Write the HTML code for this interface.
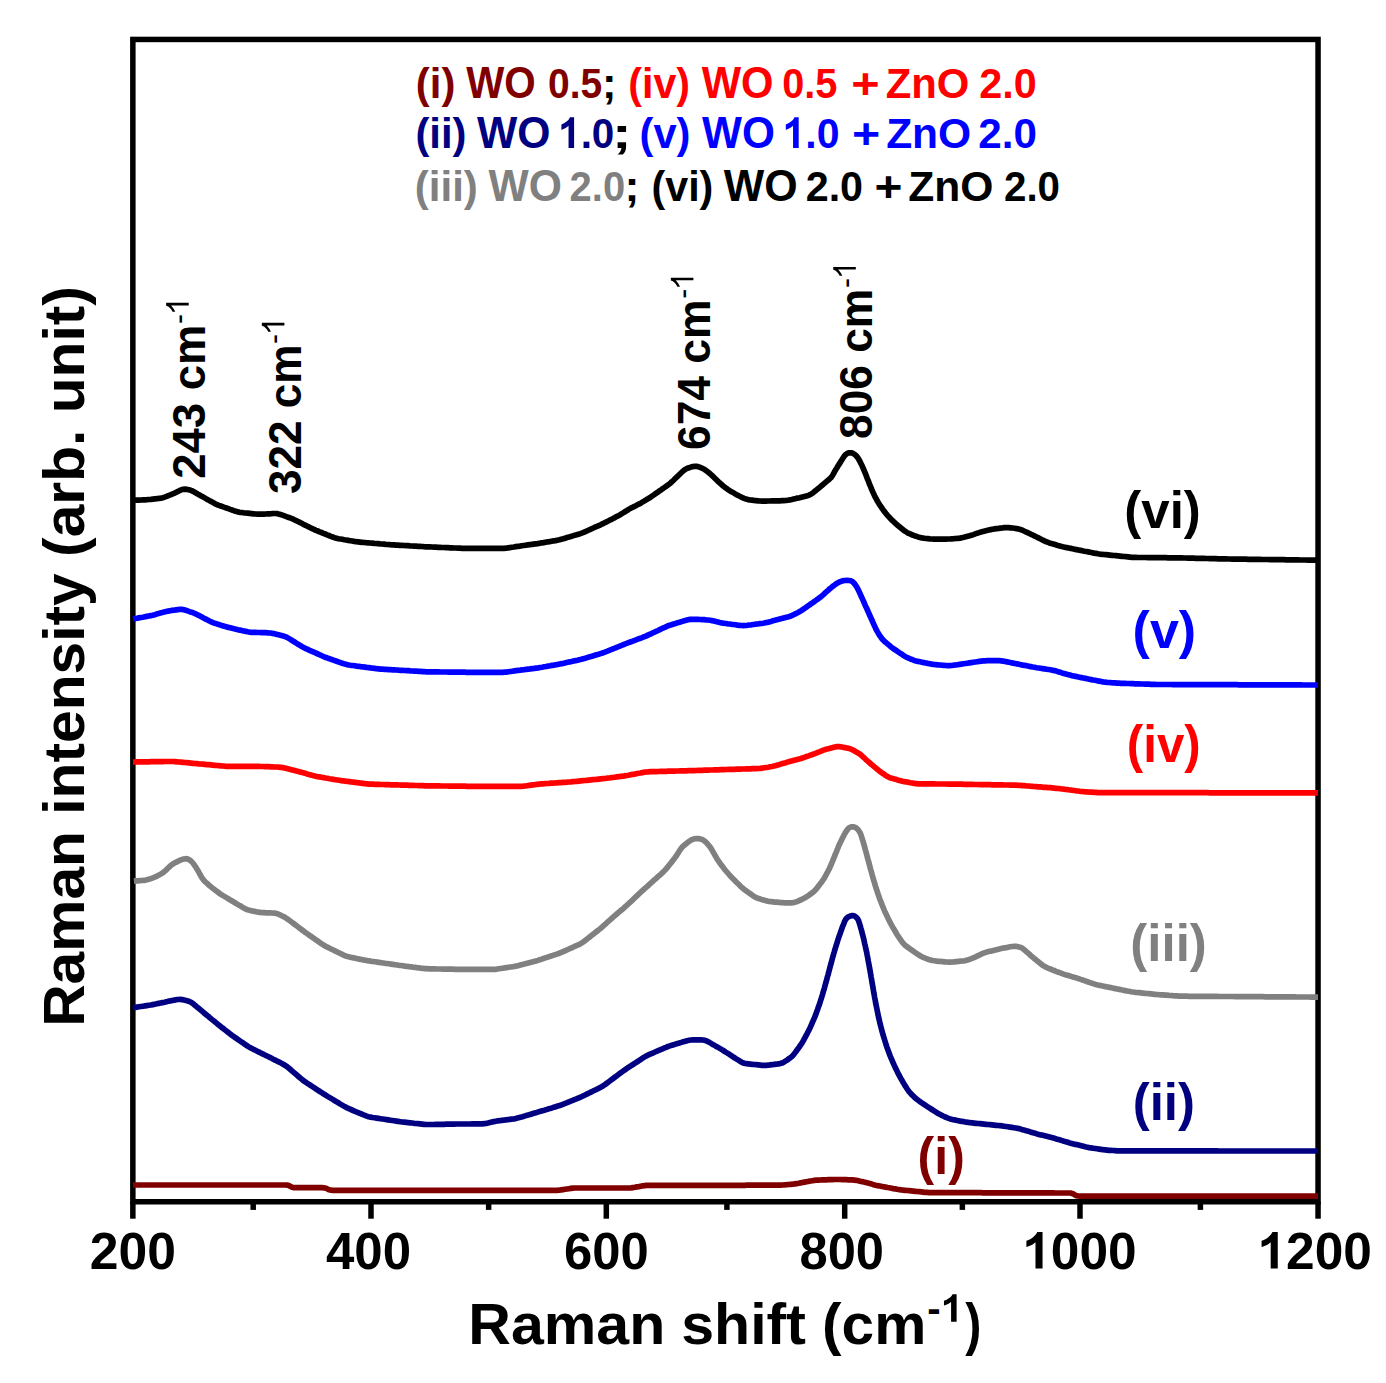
<!DOCTYPE html>
<html><head><meta charset="utf-8"><style>
html,body{margin:0;padding:0;background:#fff;}
body{width:1386px;height:1383px;overflow:hidden;}
svg{display:block;}
text{font-family:"Liberation Sans",sans-serif;font-weight:bold;font-kerning:none;}
</style></head><body>
<svg width="1386" height="1383" viewBox="0 0 1386 1383">
<rect width="1386" height="1383" fill="#fff"/>
<g stroke="#000" stroke-width="5.5" fill="none">
<rect x="132.85" y="39.45" width="1185.20" height="1162.30" stroke-linejoin="miter"/>
<line x1="132.85" y1="1201.75" x2="132.85" y2="1218.7"/>
<line x1="253.20" y1="1201.75" x2="253.20" y2="1209.9"/>
<line x1="371.00" y1="1201.75" x2="371.00" y2="1218.7"/>
<line x1="488.65" y1="1201.75" x2="488.65" y2="1209.9"/>
<line x1="606.30" y1="1201.75" x2="606.30" y2="1218.7"/>
<line x1="726.90" y1="1201.75" x2="726.90" y2="1209.9"/>
<line x1="844.70" y1="1201.75" x2="844.70" y2="1218.7"/>
<line x1="962.35" y1="1201.75" x2="962.35" y2="1209.9"/>
<line x1="1080.00" y1="1201.75" x2="1080.00" y2="1218.7"/>
<line x1="1200.40" y1="1201.75" x2="1200.40" y2="1209.9"/>
<line x1="1318.05" y1="1201.75" x2="1318.05" y2="1218.7"/>
</g>
<g fill="none" stroke-width="5.7" stroke-linejoin="round" stroke-linecap="butt">
<path d="M133.0,1185.0 L135.0,1185.0 L137.0,1185.0 L139.0,1185.0 L141.0,1185.0 L143.0,1185.0 L145.0,1185.0 L147.0,1185.0 L149.0,1185.0 L151.0,1185.0 L153.0,1185.0 L155.0,1185.0 L157.0,1185.0 L159.0,1185.0 L161.0,1185.0 L163.0,1185.0 L165.0,1185.0 L167.0,1185.0 L169.0,1185.0 L171.0,1185.0 L173.0,1185.0 L175.0,1185.0 L177.0,1185.0 L179.0,1185.0 L181.0,1185.0 L183.0,1185.0 L185.0,1185.0 L187.0,1185.0 L189.0,1185.0 L191.0,1185.0 L193.0,1185.0 L195.0,1185.0 L197.0,1185.0 L199.0,1185.0 L201.0,1185.0 L203.0,1185.0 L205.0,1185.0 L207.0,1185.0 L209.0,1185.0 L211.0,1185.0 L213.0,1185.0 L215.0,1185.0 L217.0,1185.0 L219.0,1185.0 L221.0,1185.0 L223.0,1185.0 L225.0,1185.0 L227.0,1185.0 L229.0,1185.0 L231.0,1185.0 L233.0,1185.0 L235.0,1185.0 L237.0,1185.0 L239.0,1185.0 L241.0,1185.0 L243.0,1185.0 L245.0,1185.0 L247.0,1185.0 L249.0,1185.0 L251.0,1185.0 L253.0,1185.0 L255.0,1185.0 L257.1,1185.0 L259.1,1185.0 L261.1,1185.0 L263.1,1185.0 L265.1,1185.0 L267.1,1185.0 L269.1,1185.0 L271.1,1185.0 L273.1,1185.0 L275.1,1185.0 L277.1,1185.0 L279.1,1185.0 L281.1,1185.0 L283.1,1185.0 L285.1,1185.0 L287.0,1185.1 L288.8,1185.6 L290.5,1186.4 L292.1,1187.2 L294.0,1187.6 L295.9,1187.7 L297.9,1187.7 L299.9,1187.7 L301.9,1187.7 L303.9,1187.7 L305.9,1187.7 L307.9,1187.7 L309.9,1187.7 L311.9,1187.7 L313.9,1187.7 L315.9,1187.7 L317.9,1187.7 L319.9,1187.7 L321.9,1187.7 L323.9,1187.8 L325.8,1188.2 L327.5,1189.0 L329.2,1189.8 L331.0,1190.2 L333.0,1190.3 L335.0,1190.3 L337.0,1190.3 L339.0,1190.3 L341.0,1190.3 L343.0,1190.3 L345.0,1190.3 L347.0,1190.3 L349.0,1190.3 L351.0,1190.3 L353.0,1190.3 L355.0,1190.3 L357.0,1190.3 L359.0,1190.3 L361.0,1190.3 L363.0,1190.3 L365.0,1190.3 L367.0,1190.3 L369.0,1190.3 L371.0,1190.3 L373.0,1190.3 L375.0,1190.3 L377.0,1190.3 L379.0,1190.3 L381.0,1190.3 L383.0,1190.3 L385.0,1190.3 L387.0,1190.3 L389.0,1190.3 L391.0,1190.3 L393.0,1190.3 L395.0,1190.3 L397.0,1190.3 L399.0,1190.3 L401.0,1190.3 L403.0,1190.3 L405.0,1190.3 L407.0,1190.3 L409.0,1190.3 L411.0,1190.3 L413.0,1190.3 L415.0,1190.3 L417.0,1190.3 L419.0,1190.3 L421.0,1190.3 L423.0,1190.3 L425.0,1190.3 L427.0,1190.3 L429.0,1190.3 L431.0,1190.3 L433.0,1190.3 L435.0,1190.3 L437.0,1190.3 L439.0,1190.3 L441.0,1190.3 L443.0,1190.3 L445.0,1190.3 L447.0,1190.3 L449.0,1190.3 L451.0,1190.3 L453.0,1190.3 L455.0,1190.3 L457.0,1190.3 L459.0,1190.3 L461.0,1190.3 L463.0,1190.3 L465.0,1190.3 L467.0,1190.3 L469.0,1190.3 L471.0,1190.3 L473.0,1190.3 L475.0,1190.3 L477.0,1190.3 L479.0,1190.3 L481.0,1190.3 L483.0,1190.3 L485.0,1190.3 L487.0,1190.3 L489.0,1190.3 L491.0,1190.3 L493.0,1190.3 L495.0,1190.3 L497.0,1190.3 L499.0,1190.3 L501.0,1190.3 L503.0,1190.3 L505.0,1190.3 L507.0,1190.3 L509.0,1190.3 L511.0,1190.3 L513.0,1190.3 L515.0,1190.3 L517.0,1190.3 L519.0,1190.3 L521.0,1190.3 L523.0,1190.3 L525.0,1190.3 L527.0,1190.3 L529.0,1190.3 L531.0,1190.3 L533.0,1190.3 L535.0,1190.3 L537.0,1190.3 L539.0,1190.3 L541.0,1190.3 L543.0,1190.3 L545.1,1190.3 L547.1,1190.3 L549.1,1190.3 L551.1,1190.3 L553.1,1190.3 L555.1,1190.3 L557.1,1190.3 L559.0,1190.2 L561.0,1189.9 L563.0,1189.6 L565.0,1189.3 L567.0,1189.0 L568.9,1188.7 L570.9,1188.4 L572.9,1188.1 L574.9,1188.0 L576.9,1188.0 L578.9,1188.0 L580.9,1188.0 L582.9,1188.0 L584.9,1188.0 L586.9,1188.0 L588.9,1188.0 L590.9,1188.0 L592.9,1188.0 L594.9,1188.0 L596.9,1188.0 L598.9,1188.0 L600.9,1188.0 L602.9,1188.0 L604.9,1188.0 L606.9,1188.0 L608.9,1188.0 L610.9,1188.0 L612.9,1188.0 L614.9,1188.0 L616.9,1188.0 L618.9,1188.0 L620.9,1188.0 L622.9,1188.0 L624.9,1188.0 L626.9,1188.0 L628.9,1188.0 L630.9,1187.9 L632.9,1187.6 L634.8,1187.3 L636.8,1186.9 L638.8,1186.6 L640.7,1186.2 L642.7,1185.8 L644.7,1185.6 L646.7,1185.4 L648.7,1185.4 L650.7,1185.4 L652.7,1185.4 L654.7,1185.4 L656.7,1185.4 L658.7,1185.4 L660.7,1185.4 L662.7,1185.4 L664.7,1185.4 L666.7,1185.4 L668.7,1185.4 L670.7,1185.4 L672.7,1185.4 L674.7,1185.4 L676.7,1185.4 L678.7,1185.4 L680.7,1185.3 L682.7,1185.3 L684.7,1185.3 L686.7,1185.3 L688.7,1185.3 L690.7,1185.3 L692.7,1185.3 L694.7,1185.3 L696.7,1185.3 L698.7,1185.3 L700.7,1185.3 L702.7,1185.3 L704.7,1185.3 L706.7,1185.3 L708.7,1185.3 L710.7,1185.3 L712.7,1185.3 L714.7,1185.3 L716.7,1185.3 L718.7,1185.3 L720.7,1185.3 L722.7,1185.3 L724.7,1185.3 L726.7,1185.3 L728.7,1185.3 L730.7,1185.3 L732.7,1185.3 L734.7,1185.3 L736.7,1185.3 L738.7,1185.3 L740.7,1185.3 L742.7,1185.3 L744.7,1185.3 L746.7,1185.2 L748.7,1185.2 L750.7,1185.2 L752.7,1185.2 L754.7,1185.2 L756.7,1185.2 L758.7,1185.2 L760.7,1185.2 L762.7,1185.2 L764.7,1185.2 L766.7,1185.2 L768.7,1185.2 L770.7,1185.2 L772.7,1185.2 L774.7,1185.2 L776.7,1185.2 L778.7,1185.2 L780.7,1185.1 L782.7,1185.0 L784.7,1184.8 L786.7,1184.7 L788.7,1184.5 L790.7,1184.3 L792.7,1184.2 L794.7,1183.9 L796.6,1183.6 L798.6,1183.3 L800.6,1182.9 L802.5,1182.5 L804.5,1182.1 L806.5,1181.7 L808.4,1181.4 L810.4,1181.0 L812.4,1180.7 L814.3,1180.4 L816.3,1180.2 L818.3,1180.1 L820.3,1180.0 L822.3,1179.9 L824.3,1179.9 L826.3,1179.8 L828.3,1179.7 L830.3,1179.7 L832.3,1179.6 L834.3,1179.5 L836.3,1179.5 L838.3,1179.5 L840.3,1179.5 L842.3,1179.6 L844.3,1179.6 L846.3,1179.7 L848.3,1179.8 L850.3,1179.8 L852.3,1179.9 L854.3,1180.1 L856.3,1180.3 L858.2,1180.7 L860.2,1181.2 L862.1,1181.6 L864.1,1182.1 L866.0,1182.5 L868.0,1183.1 L869.9,1183.6 L871.8,1184.1 L873.7,1184.7 L875.7,1185.2 L877.6,1185.6 L879.6,1186.0 L881.6,1186.4 L883.5,1186.7 L885.5,1187.1 L887.5,1187.5 L889.4,1187.8 L891.4,1188.2 L893.4,1188.6 L895.3,1188.9 L897.3,1189.3 L899.3,1189.6 L901.3,1189.9 L903.2,1190.1 L905.2,1190.3 L907.2,1190.5 L909.2,1190.7 L911.2,1190.9 L913.2,1191.1 L915.2,1191.3 L917.2,1191.5 L919.2,1191.7 L921.2,1191.9 L923.1,1192.1 L925.1,1192.3 L927.1,1192.4 L929.1,1192.6 L931.1,1192.6 L933.1,1192.6 L935.1,1192.6 L937.1,1192.6 L939.1,1192.6 L941.1,1192.6 L943.1,1192.6 L945.1,1192.6 L947.1,1192.7 L949.1,1192.7 L951.1,1192.7 L953.1,1192.7 L955.1,1192.7 L957.1,1192.7 L959.1,1192.7 L961.1,1192.7 L963.1,1192.7 L965.1,1192.7 L967.1,1192.7 L969.1,1192.7 L971.1,1192.7 L973.1,1192.7 L975.1,1192.7 L977.1,1192.7 L979.1,1192.7 L981.1,1192.7 L983.1,1192.8 L985.1,1192.8 L987.1,1192.8 L989.2,1192.8 L991.2,1192.8 L993.2,1192.8 L995.2,1192.8 L997.2,1192.8 L999.2,1192.8 L1001.2,1192.8 L1003.2,1192.8 L1005.2,1192.8 L1007.2,1192.8 L1009.2,1192.8 L1011.2,1192.8 L1013.2,1192.8 L1015.2,1192.8 L1017.2,1192.8 L1019.2,1192.9 L1021.2,1192.9 L1023.2,1192.9 L1025.2,1192.9 L1027.2,1192.9 L1029.2,1192.9 L1031.2,1192.9 L1033.2,1192.9 L1035.2,1192.9 L1037.2,1192.9 L1039.2,1192.9 L1041.2,1192.9 L1043.2,1192.9 L1045.2,1192.9 L1047.2,1192.9 L1049.2,1192.9 L1051.2,1192.9 L1053.2,1192.9 L1055.2,1193.0 L1057.2,1193.0 L1059.2,1193.0 L1061.2,1193.0 L1063.2,1193.0 L1065.2,1193.0 L1067.2,1193.0 L1069.2,1193.0 L1071.1,1193.2 L1072.9,1193.7 L1074.5,1194.7 L1076.1,1195.6 L1077.9,1196.0 L1079.9,1196.1 L1081.9,1196.1 L1083.9,1196.1 L1085.9,1196.1 L1087.9,1196.1 L1089.9,1196.1 L1091.9,1196.1 L1093.9,1196.1 L1095.9,1196.1 L1097.9,1196.1 L1099.9,1196.1 L1101.9,1196.1 L1103.9,1196.1 L1105.9,1196.1 L1107.9,1196.1 L1109.9,1196.1 L1111.9,1196.1 L1113.9,1196.1 L1115.9,1196.1 L1117.9,1196.1 L1119.9,1196.1 L1121.9,1196.1 L1123.9,1196.1 L1125.9,1196.1 L1127.9,1196.1 L1129.9,1196.1 L1131.9,1196.1 L1133.9,1196.1 L1135.9,1196.1 L1137.9,1196.1 L1139.9,1196.1 L1141.9,1196.1 L1143.9,1196.1 L1145.9,1196.1 L1147.9,1196.1 L1149.9,1196.1 L1151.9,1196.1 L1153.9,1196.1 L1155.9,1196.1 L1157.9,1196.1 L1159.9,1196.1 L1161.9,1196.1 L1163.9,1196.1 L1165.9,1196.1 L1167.9,1196.1 L1169.9,1196.1 L1171.9,1196.1 L1173.9,1196.1 L1175.9,1196.1 L1177.9,1196.1 L1179.9,1196.1 L1181.9,1196.1 L1183.9,1196.1 L1185.9,1196.1 L1187.9,1196.1 L1189.9,1196.1 L1191.9,1196.1 L1193.9,1196.1 L1196.0,1196.1 L1198.0,1196.1 L1200.0,1196.1 L1202.0,1196.1 L1204.0,1196.1 L1206.0,1196.1 L1208.0,1196.1 L1210.0,1196.1 L1212.0,1196.1 L1214.0,1196.1 L1216.0,1196.1 L1218.0,1196.1 L1220.0,1196.1 L1222.0,1196.1 L1224.0,1196.1 L1226.0,1196.1 L1228.0,1196.1 L1230.0,1196.1 L1232.0,1196.1 L1234.0,1196.1 L1236.0,1196.1 L1238.0,1196.1 L1240.0,1196.1 L1242.0,1196.1 L1244.0,1196.1 L1246.0,1196.1 L1248.0,1196.1 L1250.0,1196.1 L1252.0,1196.1 L1254.0,1196.1 L1256.0,1196.1 L1258.0,1196.1 L1260.0,1196.1 L1262.0,1196.1 L1264.0,1196.1 L1266.0,1196.1 L1268.0,1196.1 L1270.0,1196.1 L1272.0,1196.1 L1274.0,1196.1 L1276.0,1196.1 L1278.0,1196.1 L1280.0,1196.1 L1282.0,1196.1 L1284.0,1196.1 L1286.0,1196.1 L1288.0,1196.1 L1290.0,1196.1 L1292.0,1196.1 L1294.0,1196.1 L1296.0,1196.1 L1298.0,1196.1 L1300.0,1196.1 L1302.0,1196.1 L1304.0,1196.1 L1306.0,1196.1 L1308.0,1196.1 L1310.0,1196.1 L1312.0,1196.1 L1314.0,1196.1 L1316.0,1196.1 L1318.0,1196.1" stroke="#800000"/>
<path d="M133.0,1007.7 L135.0,1007.4 L137.0,1007.1 L138.9,1006.8 L140.9,1006.5 L142.9,1006.2 L144.9,1005.9 L146.8,1005.6 L148.8,1005.3 L150.8,1005.0 L152.8,1004.6 L154.7,1004.2 L156.7,1003.8 L158.6,1003.4 L160.6,1003.0 L162.5,1002.6 L164.5,1002.2 L166.5,1001.7 L168.4,1001.3 L170.4,1000.9 L172.3,1000.5 L174.3,1000.1 L176.3,999.7 L178.2,999.5 L180.2,999.4 L182.1,999.6 L184.1,1000.0 L186.0,1000.5 L187.9,1001.0 L189.8,1001.7 L191.5,1002.6 L193.1,1003.7 L194.6,1005.0 L196.2,1006.3 L197.7,1007.6 L199.2,1008.8 L200.8,1010.1 L202.3,1011.4 L203.8,1012.7 L205.4,1014.0 L206.9,1015.3 L208.5,1016.5 L210.0,1017.8 L211.5,1019.1 L213.1,1020.4 L214.6,1021.6 L216.2,1022.9 L217.7,1024.2 L219.3,1025.4 L220.9,1026.7 L222.4,1027.9 L224.0,1029.1 L225.6,1030.4 L227.1,1031.6 L228.7,1032.8 L230.3,1034.1 L231.9,1035.3 L233.5,1036.4 L235.2,1037.6 L236.8,1038.7 L238.4,1039.8 L240.1,1041.0 L241.7,1042.1 L243.4,1043.2 L245.0,1044.4 L246.7,1045.5 L248.4,1046.6 L250.1,1047.6 L251.9,1048.5 L253.6,1049.4 L255.4,1050.3 L257.2,1051.2 L259.0,1052.1 L260.8,1053.0 L262.6,1053.9 L264.4,1054.8 L266.2,1055.7 L268.0,1056.5 L269.8,1057.4 L271.6,1058.3 L273.3,1059.2 L275.1,1060.1 L276.9,1061.0 L278.7,1061.9 L280.5,1062.8 L282.3,1063.7 L284.0,1064.7 L285.7,1065.7 L287.3,1066.9 L288.9,1068.2 L290.4,1069.5 L291.9,1070.8 L293.4,1072.1 L294.9,1073.4 L296.4,1074.7 L297.9,1076.0 L299.4,1077.3 L301.0,1078.6 L302.5,1079.9 L304.1,1081.1 L305.7,1082.2 L307.4,1083.3 L309.1,1084.4 L310.8,1085.5 L312.4,1086.6 L314.1,1087.7 L315.8,1088.8 L317.4,1089.9 L319.1,1091.0 L320.8,1092.1 L322.5,1093.2 L324.2,1094.3 L325.9,1095.3 L327.6,1096.4 L329.3,1097.4 L331.0,1098.4 L332.7,1099.4 L334.4,1100.5 L336.1,1101.5 L337.9,1102.5 L339.6,1103.6 L341.3,1104.6 L343.0,1105.6 L344.7,1106.6 L346.5,1107.6 L348.3,1108.4 L350.1,1109.2 L352.0,1110.0 L353.8,1110.8 L355.7,1111.6 L357.5,1112.3 L359.3,1113.1 L361.2,1113.9 L363.0,1114.7 L364.9,1115.4 L366.7,1116.1 L368.6,1116.7 L370.6,1117.1 L372.5,1117.5 L374.5,1117.8 L376.5,1118.1 L378.5,1118.4 L380.4,1118.7 L382.4,1119.0 L384.4,1119.3 L386.4,1119.6 L388.4,1119.9 L390.3,1120.2 L392.3,1120.5 L394.3,1120.8 L396.3,1121.1 L398.2,1121.4 L400.2,1121.7 L402.2,1122.0 L404.2,1122.2 L406.2,1122.4 L408.2,1122.6 L410.2,1122.8 L412.1,1123.0 L414.1,1123.3 L416.1,1123.5 L418.1,1123.7 L420.1,1123.9 L422.1,1124.1 L424.1,1124.3 L426.1,1124.5 L428.1,1124.5 L430.1,1124.5 L432.1,1124.5 L434.1,1124.5 L436.1,1124.4 L438.1,1124.4 L440.1,1124.3 L442.1,1124.3 L444.1,1124.3 L446.1,1124.2 L448.1,1124.2 L450.1,1124.1 L452.1,1124.1 L454.1,1124.1 L456.1,1124.0 L458.1,1124.0 L460.1,1124.0 L462.1,1124.0 L464.1,1124.0 L466.1,1124.0 L468.1,1124.0 L470.1,1124.0 L472.1,1123.9 L474.1,1123.9 L476.1,1123.9 L478.1,1123.9 L480.1,1123.9 L482.1,1123.9 L484.0,1123.7 L486.0,1123.4 L488.0,1123.0 L489.9,1122.5 L491.8,1122.0 L493.8,1121.6 L495.8,1121.2 L497.7,1120.9 L499.7,1120.7 L501.7,1120.4 L503.7,1120.2 L505.7,1119.9 L507.7,1119.7 L509.6,1119.4 L511.6,1119.1 L513.6,1118.9 L515.6,1118.6 L517.5,1118.1 L519.4,1117.6 L521.4,1117.1 L523.3,1116.5 L525.2,1115.9 L527.1,1115.3 L529.0,1114.8 L530.9,1114.2 L532.9,1113.6 L534.8,1113.0 L536.7,1112.5 L538.6,1111.9 L540.5,1111.3 L542.4,1110.7 L544.4,1110.2 L546.3,1109.6 L548.2,1109.0 L550.1,1108.4 L552.0,1107.9 L553.9,1107.3 L555.8,1106.7 L557.8,1106.1 L559.7,1105.5 L561.5,1104.8 L563.4,1104.1 L565.3,1103.3 L567.1,1102.6 L569.0,1101.8 L570.8,1101.1 L572.7,1100.4 L574.5,1099.6 L576.4,1098.9 L578.2,1098.1 L580.1,1097.3 L581.9,1096.5 L583.7,1095.7 L585.5,1094.8 L587.3,1093.9 L589.1,1093.0 L590.9,1092.1 L592.7,1091.2 L594.5,1090.3 L596.3,1089.5 L598.1,1088.6 L599.8,1087.7 L601.6,1086.7 L603.3,1085.7 L605.0,1084.6 L606.6,1083.4 L608.2,1082.2 L609.8,1081.0 L611.4,1079.8 L613.0,1078.6 L614.6,1077.4 L616.2,1076.2 L617.8,1075.0 L619.4,1073.8 L621.0,1072.6 L622.6,1071.5 L624.2,1070.3 L625.9,1069.1 L627.5,1068.0 L629.2,1066.9 L630.9,1065.8 L632.6,1064.8 L634.2,1063.7 L635.9,1062.6 L637.6,1061.5 L639.3,1060.4 L640.9,1059.3 L642.6,1058.2 L644.3,1057.1 L646.0,1056.1 L647.8,1055.2 L649.6,1054.4 L651.4,1053.6 L653.3,1052.8 L655.1,1052.0 L657.0,1051.2 L658.8,1050.4 L660.6,1049.6 L662.5,1048.8 L664.3,1048.0 L666.1,1047.3 L668.0,1046.5 L669.9,1045.9 L671.8,1045.3 L673.7,1044.7 L675.6,1044.1 L677.5,1043.6 L679.5,1043.0 L681.4,1042.4 L683.3,1041.8 L685.2,1041.3 L687.1,1040.7 L689.1,1040.3 L691.0,1040.0 L693.0,1039.9 L695.0,1039.9 L697.0,1039.9 L699.0,1039.9 L701.0,1039.9 L703.0,1040.0 L704.9,1040.4 L706.7,1041.0 L708.5,1041.9 L710.2,1042.9 L711.9,1043.9 L713.7,1044.9 L715.4,1045.9 L717.2,1046.9 L718.9,1047.9 L720.6,1048.9 L722.3,1049.9 L724.0,1051.0 L725.7,1052.1 L727.4,1053.1 L729.1,1054.2 L730.8,1055.3 L732.4,1056.4 L734.1,1057.5 L735.8,1058.6 L737.5,1059.6 L739.2,1060.7 L740.9,1061.8 L742.6,1062.7 L744.4,1063.3 L746.4,1063.7 L748.3,1063.9 L750.3,1064.1 L752.3,1064.3 L754.3,1064.5 L756.3,1064.7 L758.3,1064.9 L760.3,1065.1 L762.3,1065.3 L764.3,1065.4 L766.3,1065.3 L768.2,1065.2 L770.2,1064.9 L772.2,1064.7 L774.2,1064.4 L776.2,1064.2 L778.2,1063.9 L780.1,1063.6 L782.0,1063.1 L783.8,1062.2 L785.4,1061.2 L787.1,1060.1 L788.7,1058.9 L790.3,1057.7 L791.9,1056.5 L793.2,1055.1 L794.5,1053.5 L795.7,1051.9 L796.8,1050.3 L798.0,1048.7 L799.2,1047.1 L800.3,1045.4 L801.5,1043.8 L802.5,1042.1 L803.5,1040.3 L804.4,1038.6 L805.4,1036.8 L806.3,1035.1 L807.3,1033.3 L808.2,1031.5 L809.1,1029.7 L810.0,1027.9 L810.8,1026.1 L811.6,1024.3 L812.4,1022.4 L813.2,1020.6 L814.0,1018.8 L814.8,1016.9 L815.5,1015.1 L816.2,1013.2 L816.9,1011.3 L817.6,1009.4 L818.2,1007.6 L818.9,1005.7 L819.6,1003.8 L820.2,1001.9 L820.8,1000.0 L821.4,998.1 L822.0,996.2 L822.6,994.2 L823.1,992.3 L823.7,990.4 L824.3,988.5 L824.8,986.6 L825.3,984.6 L825.9,982.7 L826.4,980.8 L826.9,978.9 L827.4,976.9 L828.0,975.0 L828.5,973.1 L829.0,971.1 L829.5,969.2 L830.0,967.3 L830.5,965.3 L831.1,963.4 L831.6,961.5 L832.1,959.5 L832.6,957.6 L833.2,955.7 L833.7,953.8 L834.3,951.8 L834.8,949.9 L835.4,948.0 L836.0,946.1 L836.6,944.2 L837.2,942.3 L837.8,940.3 L838.4,938.4 L839.0,936.6 L839.7,934.7 L840.4,932.8 L841.0,930.9 L841.7,929.0 L842.4,927.1 L843.1,925.3 L843.9,923.4 L844.6,921.6 L845.5,919.8 L846.6,918.3 L848.1,917.1 L849.8,916.2 L851.5,915.6 L853.2,915.5 L854.8,916.2 L856.3,917.3 L857.6,918.8 L858.5,920.5 L859.1,922.3 L859.7,924.2 L860.3,926.2 L860.8,928.1 L861.4,930.0 L861.9,932.0 L862.4,933.9 L862.9,935.8 L863.4,937.8 L863.9,939.7 L864.3,941.7 L864.7,943.6 L865.2,945.6 L865.6,947.5 L866.0,949.5 L866.5,951.4 L866.9,953.4 L867.2,955.3 L867.6,957.3 L868.0,959.3 L868.3,961.2 L868.7,963.2 L869.1,965.2 L869.4,967.1 L869.8,969.1 L870.1,971.1 L870.5,973.1 L870.8,975.0 L871.1,977.0 L871.5,979.0 L871.8,980.9 L872.1,982.9 L872.5,984.9 L872.8,986.9 L873.2,988.8 L873.5,990.8 L873.8,992.8 L874.2,994.7 L874.5,996.7 L874.9,998.7 L875.3,1000.6 L875.6,1002.6 L876.0,1004.6 L876.4,1006.5 L876.8,1008.5 L877.2,1010.5 L877.6,1012.4 L878.0,1014.4 L878.4,1016.3 L878.8,1018.3 L879.3,1020.2 L879.7,1022.2 L880.2,1024.1 L880.7,1026.1 L881.2,1028.0 L881.7,1029.9 L882.2,1031.9 L882.8,1033.8 L883.3,1035.7 L883.9,1037.6 L884.5,1039.5 L885.1,1041.5 L885.7,1043.4 L886.3,1045.3 L886.9,1047.2 L887.6,1049.0 L888.3,1050.9 L889.0,1052.8 L889.7,1054.7 L890.4,1056.5 L891.2,1058.4 L892.0,1060.2 L892.8,1062.1 L893.6,1063.9 L894.4,1065.7 L895.3,1067.5 L896.1,1069.3 L897.0,1071.1 L897.9,1072.9 L898.8,1074.7 L899.7,1076.4 L900.7,1078.2 L901.7,1079.9 L902.7,1081.7 L903.7,1083.4 L904.7,1085.1 L905.8,1086.8 L906.9,1088.5 L908.0,1090.1 L909.2,1091.7 L910.5,1093.3 L911.8,1094.7 L913.3,1096.1 L914.7,1097.5 L916.2,1098.8 L917.8,1100.0 L919.4,1101.2 L921.0,1102.3 L922.7,1103.5 L924.4,1104.6 L926.0,1105.7 L927.7,1106.8 L929.4,1107.9 L931.1,1109.0 L932.7,1110.0 L934.4,1111.1 L936.1,1112.2 L937.8,1113.2 L939.6,1114.2 L941.3,1115.1 L943.1,1116.0 L944.9,1116.8 L946.8,1117.7 L948.6,1118.4 L950.5,1119.0 L952.4,1119.5 L954.4,1119.9 L956.3,1120.3 L958.3,1120.7 L960.3,1121.1 L962.2,1121.4 L964.2,1121.8 L966.2,1122.2 L968.1,1122.4 L970.1,1122.7 L972.1,1122.9 L974.1,1123.1 L976.1,1123.3 L978.1,1123.5 L980.1,1123.7 L982.1,1123.9 L984.1,1124.1 L986.0,1124.3 L988.0,1124.5 L990.0,1124.7 L992.0,1124.9 L994.0,1125.1 L996.0,1125.3 L998.0,1125.5 L1000.0,1125.7 L1002.0,1125.9 L1003.9,1126.2 L1005.9,1126.5 L1007.9,1126.8 L1009.9,1127.1 L1011.9,1127.4 L1013.8,1127.7 L1015.8,1128.0 L1017.8,1128.4 L1019.7,1128.8 L1021.6,1129.4 L1023.6,1129.9 L1025.5,1130.5 L1027.4,1131.1 L1029.3,1131.6 L1031.2,1132.2 L1033.1,1132.8 L1035.1,1133.3 L1037.0,1133.9 L1038.9,1134.4 L1040.9,1134.9 L1042.8,1135.3 L1044.7,1135.8 L1046.7,1136.3 L1048.6,1136.8 L1050.6,1137.3 L1052.5,1137.8 L1054.4,1138.3 L1056.4,1138.9 L1058.3,1139.4 L1060.2,1140.0 L1062.1,1140.6 L1064.0,1141.2 L1065.9,1141.7 L1067.8,1142.3 L1069.8,1142.9 L1071.7,1143.4 L1073.6,1143.9 L1075.6,1144.4 L1077.5,1144.8 L1079.5,1145.3 L1081.4,1145.8 L1083.3,1146.3 L1085.3,1146.8 L1087.2,1147.2 L1089.2,1147.6 L1091.2,1147.9 L1093.1,1148.2 L1095.1,1148.5 L1097.1,1148.8 L1099.1,1149.1 L1101.1,1149.4 L1103.0,1149.7 L1105.0,1149.9 L1107.0,1150.1 L1109.0,1150.3 L1111.0,1150.4 L1113.0,1150.5 L1115.0,1150.6 L1117.0,1150.8 L1119.0,1150.8 L1121.0,1150.9 L1123.0,1150.9 L1125.0,1150.9 L1127.0,1150.9 L1129.0,1150.9 L1131.0,1150.9 L1133.0,1150.9 L1135.0,1150.9 L1137.0,1150.9 L1139.0,1150.9 L1141.0,1150.9 L1143.0,1150.9 L1145.0,1150.9 L1147.0,1150.9 L1149.0,1150.9 L1151.0,1150.9 L1153.0,1150.9 L1155.0,1150.9 L1157.0,1150.9 L1159.0,1150.9 L1161.0,1150.9 L1163.0,1150.9 L1165.0,1150.9 L1167.0,1150.9 L1169.0,1150.9 L1171.0,1150.9 L1173.0,1150.9 L1175.0,1150.9 L1177.0,1150.9 L1179.0,1150.9 L1181.0,1150.9 L1183.0,1150.9 L1185.0,1150.9 L1187.0,1150.9 L1189.0,1150.9 L1191.0,1150.9 L1193.0,1150.9 L1195.0,1150.9 L1197.0,1150.9 L1199.0,1150.9 L1201.0,1150.9 L1203.0,1150.9 L1205.0,1150.9 L1207.0,1150.9 L1209.0,1150.9 L1211.0,1150.9 L1213.0,1150.9 L1215.0,1150.9 L1217.0,1150.9 L1219.0,1151.0 L1221.0,1151.0 L1223.0,1151.0 L1225.0,1151.0 L1227.0,1151.0 L1229.0,1151.0 L1231.0,1151.0 L1233.0,1151.0 L1235.0,1151.0 L1237.0,1151.0 L1239.0,1151.0 L1241.0,1151.0 L1243.0,1151.0 L1245.0,1151.0 L1247.0,1151.0 L1249.0,1151.0 L1251.0,1151.0 L1253.0,1151.0 L1255.0,1151.0 L1257.0,1151.0 L1259.0,1151.0 L1261.0,1151.0 L1263.0,1151.0 L1265.0,1151.0 L1267.0,1151.0 L1269.0,1151.0 L1271.0,1151.0 L1273.0,1151.0 L1275.0,1151.0 L1277.0,1151.0 L1279.0,1151.0 L1281.0,1151.0 L1283.0,1151.0 L1285.0,1151.0 L1287.0,1151.0 L1289.0,1151.0 L1291.0,1151.0 L1293.0,1151.0 L1295.0,1151.0 L1297.0,1151.0 L1299.0,1151.0 L1301.0,1151.0 L1303.0,1151.0 L1305.0,1151.0 L1307.0,1151.0 L1309.0,1151.0 L1311.0,1151.0 L1313.0,1151.0 L1315.0,1151.0 L1317.0,1151.0 L1318.0,1151.0" stroke="#000080"/>
<path d="M133.9,881.1 L135.9,880.9 L137.9,880.8 L139.9,880.6 L141.9,880.5 L143.9,880.3 L145.8,880.1 L147.8,879.6 L149.7,879.1 L151.6,878.4 L153.4,877.7 L155.3,876.9 L157.1,876.1 L158.9,875.1 L160.6,874.1 L162.3,873.1 L163.9,871.9 L165.4,870.6 L166.8,869.3 L168.3,867.8 L169.7,866.5 L171.2,865.2 L172.8,864.0 L174.5,863.0 L176.3,862.1 L178.1,861.2 L179.9,860.4 L181.7,859.6 L183.6,859.0 L185.5,858.7 L187.3,858.8 L189.0,859.6 L190.6,860.7 L192.0,862.0 L193.3,863.5 L194.4,865.1 L195.6,866.8 L196.6,868.5 L197.7,870.2 L198.7,871.9 L199.6,873.7 L200.6,875.4 L201.6,877.2 L202.6,878.8 L203.9,880.4 L205.3,881.8 L206.8,883.1 L208.2,884.5 L209.7,885.8 L211.3,887.1 L212.8,888.3 L214.4,889.5 L216.0,890.7 L217.6,891.9 L219.2,893.1 L220.9,894.3 L222.6,895.4 L224.3,896.4 L226.0,897.4 L227.7,898.4 L229.4,899.5 L231.2,900.5 L232.9,901.5 L234.6,902.5 L236.3,903.6 L238.0,904.6 L239.7,905.6 L241.5,906.6 L243.2,907.7 L244.9,908.6 L246.7,909.5 L248.6,910.1 L250.5,910.6 L252.5,911.0 L254.4,911.4 L256.4,911.8 L258.4,912.1 L260.3,912.4 L262.3,912.6 L264.3,912.7 L266.3,912.8 L268.3,912.8 L270.3,912.9 L272.3,913.0 L274.3,913.2 L276.2,913.4 L278.1,914.0 L279.9,914.8 L281.7,915.7 L283.5,916.6 L285.3,917.6 L286.9,918.6 L288.6,919.8 L290.2,921.0 L291.8,922.2 L293.4,923.4 L295.0,924.6 L296.6,925.8 L298.2,927.0 L299.7,928.2 L301.3,929.4 L302.9,930.6 L304.5,931.8 L306.2,933.0 L307.8,934.1 L309.5,935.3 L311.1,936.4 L312.7,937.6 L314.4,938.7 L316.0,939.9 L317.7,941.0 L319.3,942.2 L320.9,943.3 L322.6,944.4 L324.3,945.5 L326.0,946.5 L327.8,947.4 L329.6,948.3 L331.4,949.2 L333.2,950.0 L335.0,950.9 L336.8,951.8 L338.6,952.7 L340.4,953.5 L342.2,954.4 L344.0,955.3 L345.8,956.0 L347.7,956.6 L349.6,957.1 L351.6,957.5 L353.6,957.9 L355.5,958.3 L357.5,958.7 L359.4,959.1 L361.4,959.5 L363.4,959.9 L365.3,960.2 L367.3,960.6 L369.3,960.9 L371.3,961.3 L373.2,961.5 L375.2,961.8 L377.2,962.1 L379.2,962.4 L381.2,962.7 L383.1,963.0 L385.1,963.3 L387.1,963.5 L389.1,963.8 L391.1,964.1 L393.0,964.4 L395.0,964.7 L397.0,965.0 L399.0,965.3 L401.0,965.5 L402.9,965.8 L404.9,966.1 L406.9,966.3 L408.9,966.6 L410.9,966.8 L412.9,967.1 L414.9,967.3 L416.8,967.6 L418.8,967.8 L420.8,968.1 L422.8,968.3 L424.8,968.6 L426.8,968.7 L428.8,968.8 L430.8,968.9 L432.8,968.9 L434.8,968.9 L436.8,969.0 L438.8,969.0 L440.8,969.0 L442.8,969.1 L444.8,969.1 L446.8,969.1 L448.8,969.2 L450.8,969.2 L452.8,969.2 L454.8,969.3 L456.8,969.3 L458.8,969.3 L460.8,969.4 L462.8,969.4 L464.8,969.4 L466.8,969.4 L468.8,969.4 L470.8,969.4 L472.8,969.4 L474.8,969.4 L476.8,969.4 L478.8,969.4 L480.8,969.4 L482.8,969.4 L484.8,969.4 L486.8,969.4 L488.8,969.4 L490.8,969.4 L492.8,969.4 L494.8,969.3 L496.8,969.1 L498.8,968.8 L500.7,968.5 L502.7,968.2 L504.7,967.9 L506.7,967.6 L508.7,967.3 L510.6,967.0 L512.6,966.7 L514.6,966.4 L516.6,966.0 L518.5,965.6 L520.4,965.1 L522.4,964.6 L524.3,964.0 L526.2,963.5 L528.2,963.0 L530.1,962.5 L532.0,962.0 L534.0,961.4 L535.9,960.9 L537.8,960.4 L539.7,959.8 L541.6,959.2 L543.5,958.5 L545.4,957.9 L547.3,957.3 L549.2,956.6 L551.1,956.0 L553.0,955.4 L554.9,954.7 L556.8,954.1 L558.7,953.5 L560.6,952.7 L562.4,952.0 L564.3,951.1 L566.1,950.3 L567.9,949.5 L569.7,948.7 L571.6,947.9 L573.4,947.0 L575.2,946.2 L577.0,945.4 L578.8,944.6 L580.6,943.7 L582.3,942.6 L583.9,941.5 L585.5,940.2 L587.1,939.0 L588.7,937.8 L590.2,936.5 L591.8,935.3 L593.4,934.1 L595.0,932.8 L596.5,931.6 L598.1,930.4 L599.7,929.1 L601.2,927.8 L602.7,926.5 L604.2,925.1 L605.7,923.8 L607.1,922.5 L608.6,921.1 L610.1,919.8 L611.6,918.5 L613.1,917.1 L614.6,915.8 L616.2,914.5 L617.7,913.2 L619.2,911.9 L620.7,910.6 L622.3,909.4 L623.8,908.1 L625.3,906.7 L626.8,905.4 L628.3,904.0 L629.7,902.7 L631.2,901.3 L632.6,899.9 L634.0,898.5 L635.5,897.1 L636.9,895.8 L638.4,894.4 L639.9,893.0 L641.3,891.7 L642.8,890.3 L644.3,889.0 L645.8,887.6 L647.3,886.3 L648.8,885.0 L650.2,883.6 L651.7,882.3 L653.2,880.9 L654.7,879.6 L656.2,878.3 L657.7,876.9 L659.2,875.6 L660.7,874.3 L662.2,872.9 L663.6,871.6 L665.0,870.1 L666.3,868.7 L667.6,867.1 L668.9,865.5 L670.1,864.0 L671.4,862.4 L672.6,860.9 L673.8,859.3 L675.0,857.7 L676.2,856.0 L677.3,854.4 L678.3,852.7 L679.4,851.0 L680.5,849.3 L681.7,847.7 L683.0,846.3 L684.5,845.0 L686.1,843.7 L687.6,842.5 L689.2,841.3 L690.9,840.2 L692.7,839.4 L694.5,838.8 L696.4,838.5 L698.4,838.6 L700.3,839.1 L702.2,839.6 L703.9,840.5 L705.4,841.7 L706.8,843.1 L708.1,844.6 L709.4,846.1 L710.6,847.7 L711.6,849.4 L712.6,851.1 L713.6,852.9 L714.6,854.6 L715.6,856.4 L716.6,858.1 L717.6,859.8 L718.8,861.4 L719.9,863.1 L721.1,864.7 L722.3,866.3 L723.5,867.9 L724.7,869.5 L726.0,871.0 L727.3,872.5 L728.6,874.0 L729.9,875.5 L731.3,877.0 L732.7,878.4 L734.1,879.8 L735.5,881.2 L737.0,882.7 L738.4,884.1 L739.8,885.5 L741.2,886.9 L742.7,888.2 L744.2,889.5 L745.9,890.7 L747.5,891.8 L749.1,893.0 L750.8,894.1 L752.4,895.3 L754.0,896.4 L755.8,897.4 L757.6,898.2 L759.5,898.8 L761.4,899.4 L763.3,899.9 L765.2,900.5 L767.1,901.0 L769.1,901.5 L771.1,901.7 L773.1,901.9 L775.0,902.1 L777.0,902.2 L779.0,902.4 L781.0,902.6 L783.0,902.7 L785.0,902.8 L787.0,902.9 L789.0,902.9 L791.0,902.8 L793.0,902.6 L794.9,902.2 L796.8,901.6 L798.6,900.8 L800.5,900.0 L802.3,899.2 L804.1,898.3 L805.8,897.3 L807.5,896.2 L809.1,895.1 L810.7,893.9 L812.4,892.7 L813.9,891.5 L815.3,890.1 L816.6,888.6 L817.8,887.0 L819.1,885.4 L820.3,883.8 L821.5,882.2 L822.6,880.6 L823.7,879.0 L824.8,877.2 L825.7,875.5 L826.7,873.7 L827.6,872.0 L828.5,870.2 L829.4,868.4 L830.3,866.6 L831.1,864.7 L831.8,862.9 L832.6,861.1 L833.4,859.2 L834.1,857.3 L834.9,855.5 L835.6,853.6 L836.4,851.8 L837.1,849.9 L837.9,848.1 L838.6,846.2 L839.4,844.4 L840.3,842.6 L841.2,840.8 L842.0,839.0 L842.9,837.2 L843.8,835.4 L844.8,833.7 L845.8,831.9 L846.9,830.3 L848.1,828.7 L849.5,827.6 L851.2,826.9 L853.1,826.8 L854.9,827.3 L856.5,828.2 L857.9,829.5 L859.1,831.1 L860.1,832.8 L860.9,834.6 L861.5,836.5 L862.1,838.4 L862.7,840.3 L863.3,842.3 L863.8,844.2 L864.4,846.1 L864.9,848.0 L865.4,850.0 L866.0,851.9 L866.5,853.8 L867.0,855.7 L867.5,857.7 L868.0,859.6 L868.6,861.5 L869.1,863.5 L869.6,865.4 L870.1,867.3 L870.6,869.3 L871.2,871.2 L871.7,873.1 L872.2,875.1 L872.8,877.0 L873.3,878.9 L873.9,880.8 L874.5,882.8 L875.0,884.7 L875.6,886.6 L876.2,888.5 L876.9,890.4 L877.5,892.3 L878.1,894.2 L878.8,896.1 L879.4,898.0 L880.1,899.8 L880.9,901.7 L881.6,903.6 L882.3,905.4 L883.1,907.3 L883.8,909.1 L884.6,911.0 L885.4,912.8 L886.3,914.6 L887.2,916.4 L888.0,918.2 L888.9,920.0 L889.8,921.8 L890.7,923.6 L891.7,925.3 L892.7,927.1 L893.7,928.8 L894.7,930.5 L895.7,932.2 L896.7,934.0 L897.8,935.7 L898.9,937.3 L900.0,939.0 L901.2,940.6 L902.3,942.2 L903.6,943.8 L905.0,945.2 L906.6,946.4 L908.2,947.6 L909.8,948.7 L911.4,949.9 L913.1,951.0 L914.7,952.2 L916.4,953.3 L918.0,954.4 L919.7,955.5 L921.4,956.5 L923.2,957.4 L925.1,958.1 L926.9,958.8 L928.8,959.5 L930.7,960.1 L932.7,960.5 L934.6,960.8 L936.6,961.1 L938.6,961.3 L940.6,961.4 L942.6,961.6 L944.6,961.8 L946.6,962.0 L948.6,962.1 L950.6,962.1 L952.5,962.0 L954.5,961.8 L956.5,961.6 L958.5,961.4 L960.5,961.2 L962.5,961.0 L964.5,960.8 L966.4,960.4 L968.3,959.8 L970.2,959.1 L972.0,958.4 L973.9,957.6 L975.7,956.8 L977.5,955.9 L979.3,955.1 L981.1,954.2 L982.9,953.4 L984.8,952.7 L986.7,952.1 L988.7,951.6 L990.6,951.1 L992.5,950.7 L994.5,950.2 L996.4,949.7 L998.4,949.2 L1000.3,948.7 L1002.3,948.3 L1004.2,947.9 L1006.2,947.6 L1008.2,947.2 L1010.1,946.8 L1012.1,946.5 L1014.1,946.3 L1016.0,946.3 L1018.0,946.7 L1019.9,947.2 L1021.7,947.9 L1023.3,949.0 L1024.8,950.2 L1026.3,951.6 L1027.8,952.9 L1029.3,954.2 L1030.8,955.6 L1032.3,956.9 L1033.8,958.2 L1035.4,959.4 L1036.9,960.7 L1038.5,961.9 L1040.1,963.2 L1041.6,964.4 L1043.2,965.6 L1044.9,966.6 L1046.7,967.5 L1048.5,968.3 L1050.4,969.0 L1052.3,969.8 L1054.1,970.5 L1056.0,971.3 L1057.8,972.0 L1059.7,972.7 L1061.6,973.4 L1063.5,974.1 L1065.4,974.7 L1067.3,975.2 L1069.2,975.8 L1071.1,976.4 L1073.0,977.0 L1075.0,977.6 L1076.9,978.1 L1078.8,978.7 L1080.7,979.4 L1082.6,980.0 L1084.5,980.7 L1086.4,981.3 L1088.2,982.0 L1090.1,982.6 L1092.0,983.3 L1093.9,983.9 L1095.8,984.5 L1097.8,985.0 L1099.7,985.4 L1101.7,985.8 L1103.6,986.2 L1105.6,986.6 L1107.6,987.0 L1109.5,987.4 L1111.5,987.8 L1113.4,988.2 L1115.4,988.6 L1117.4,989.0 L1119.3,989.4 L1121.3,989.8 L1123.3,990.2 L1125.2,990.6 L1127.2,991.0 L1129.1,991.3 L1131.1,991.7 L1133.1,992.0 L1135.1,992.3 L1137.1,992.5 L1139.0,992.7 L1141.0,992.9 L1143.0,993.1 L1145.0,993.3 L1147.0,993.5 L1149.0,993.7 L1151.0,993.9 L1153.0,994.1 L1155.0,994.3 L1157.0,994.5 L1159.0,994.7 L1161.0,994.8 L1163.0,994.9 L1165.0,995.1 L1166.9,995.2 L1168.9,995.4 L1170.9,995.5 L1172.9,995.7 L1174.9,995.8 L1176.9,995.9 L1178.9,996.1 L1180.9,996.2 L1182.9,996.2 L1184.9,996.2 L1186.9,996.2 L1188.9,996.3 L1190.9,996.3 L1192.9,996.3 L1194.9,996.3 L1196.9,996.3 L1198.9,996.3 L1200.9,996.3 L1202.9,996.3 L1204.9,996.4 L1206.9,996.4 L1208.9,996.4 L1210.9,996.4 L1212.9,996.4 L1214.9,996.4 L1216.9,996.4 L1218.9,996.5 L1220.9,996.5 L1222.9,996.5 L1224.9,996.5 L1226.9,996.5 L1228.9,996.5 L1231.0,996.5 L1233.0,996.5 L1235.0,996.6 L1237.0,996.6 L1239.0,996.6 L1241.0,996.6 L1243.0,996.6 L1245.0,996.6 L1247.0,996.6 L1249.0,996.6 L1251.0,996.7 L1253.0,996.7 L1255.0,996.7 L1257.0,996.7 L1259.0,996.7 L1261.0,996.7 L1263.0,996.7 L1265.0,996.8 L1267.0,996.8 L1269.0,996.8 L1271.0,996.8 L1273.0,996.8 L1275.0,996.8 L1277.0,996.8 L1279.0,996.8 L1281.0,996.9 L1283.0,996.9 L1285.0,996.9 L1287.0,996.9 L1289.0,996.9 L1291.0,996.9 L1293.0,996.9 L1295.0,996.9 L1297.0,997.0 L1299.0,997.0 L1301.0,997.0 L1303.0,997.0 L1305.0,997.0 L1307.0,997.0 L1309.0,997.0 L1311.0,997.1 L1313.0,997.1 L1315.0,997.1 L1317.0,997.1 L1318.0,997.1" stroke="#808080"/>
<path d="M133.0,762.0 L135.0,762.0 L137.0,761.9 L139.0,761.9 L141.0,761.9 L143.0,761.9 L145.0,761.8 L147.0,761.8 L149.0,761.8 L151.0,761.7 L153.0,761.7 L155.0,761.7 L157.0,761.6 L159.0,761.6 L161.0,761.6 L163.0,761.6 L165.0,761.5 L167.0,761.5 L169.0,761.5 L171.0,761.5 L173.0,761.5 L175.0,761.6 L177.0,761.8 L179.0,762.0 L181.0,762.1 L183.0,762.3 L185.0,762.5 L187.0,762.7 L189.0,762.9 L190.9,763.1 L192.9,763.3 L194.9,763.5 L196.9,763.7 L198.9,763.9 L200.9,764.0 L202.9,764.2 L204.9,764.4 L206.9,764.6 L208.9,764.7 L210.9,764.9 L212.9,765.1 L214.9,765.3 L216.9,765.5 L218.8,765.6 L220.8,765.8 L222.8,766.0 L224.8,766.2 L226.8,766.3 L228.8,766.4 L230.8,766.4 L232.8,766.4 L234.8,766.4 L236.8,766.4 L238.8,766.4 L240.8,766.4 L242.8,766.4 L244.8,766.4 L246.8,766.4 L248.8,766.4 L250.8,766.4 L252.8,766.4 L254.8,766.4 L256.8,766.4 L258.8,766.4 L260.8,766.5 L262.8,766.5 L264.8,766.6 L266.8,766.7 L268.8,766.7 L270.8,766.8 L272.8,766.9 L274.8,767.0 L276.8,767.0 L278.8,767.1 L280.8,767.3 L282.8,767.6 L284.7,768.0 L286.7,768.5 L288.6,769.0 L290.5,769.5 L292.5,770.0 L294.4,770.5 L296.4,771.0 L298.3,771.5 L300.2,772.0 L302.2,772.6 L304.1,773.1 L306.0,773.6 L307.9,774.2 L309.9,774.7 L311.8,775.3 L313.7,775.7 L315.7,776.2 L317.6,776.6 L319.6,776.9 L321.6,777.3 L323.6,777.6 L325.5,778.0 L327.5,778.3 L329.5,778.7 L331.4,779.0 L333.4,779.4 L335.4,779.7 L337.4,780.0 L339.3,780.3 L341.3,780.6 L343.3,780.8 L345.3,781.1 L347.3,781.3 L349.3,781.6 L351.2,781.9 L353.2,782.1 L355.2,782.4 L357.2,782.7 L359.2,782.9 L361.2,783.2 L363.1,783.4 L365.1,783.7 L367.1,783.9 L369.1,784.1 L371.1,784.2 L373.1,784.2 L375.1,784.3 L377.1,784.4 L379.1,784.4 L381.1,784.5 L383.1,784.5 L385.1,784.6 L387.1,784.7 L389.1,784.7 L391.1,784.8 L393.1,784.8 L395.1,784.9 L397.1,784.9 L399.1,785.0 L401.1,785.1 L403.1,785.1 L405.1,785.2 L407.1,785.2 L409.1,785.3 L411.1,785.4 L413.1,785.4 L415.1,785.5 L417.1,785.5 L419.1,785.6 L421.1,785.6 L423.1,785.7 L425.1,785.8 L427.1,785.8 L429.1,785.8 L431.1,785.9 L433.1,785.9 L435.1,785.9 L437.1,785.9 L439.1,785.9 L441.1,786.0 L443.1,786.0 L445.1,786.0 L447.1,786.0 L449.1,786.1 L451.1,786.1 L453.1,786.1 L455.1,786.1 L457.1,786.2 L459.1,786.2 L461.1,786.2 L463.1,786.2 L465.1,786.2 L467.1,786.3 L469.1,786.3 L471.1,786.3 L473.1,786.3 L475.1,786.3 L477.1,786.3 L479.1,786.3 L481.1,786.3 L483.1,786.3 L485.1,786.3 L487.1,786.3 L489.1,786.3 L491.1,786.3 L493.1,786.3 L495.1,786.3 L497.1,786.3 L499.1,786.3 L501.1,786.3 L503.1,786.3 L505.1,786.3 L507.1,786.3 L509.2,786.3 L511.2,786.3 L513.2,786.3 L515.2,786.3 L517.2,786.3 L519.2,786.3 L521.2,786.3 L523.1,786.2 L525.1,786.0 L527.1,785.7 L529.1,785.4 L531.1,785.1 L533.1,784.8 L535.0,784.6 L537.0,784.3 L539.0,784.1 L541.0,783.9 L543.0,783.8 L545.0,783.6 L547.0,783.5 L549.0,783.4 L551.0,783.2 L553.0,783.1 L555.0,783.0 L557.0,782.8 L559.0,782.7 L561.0,782.6 L563.0,782.4 L565.0,782.3 L567.0,782.2 L569.0,782.0 L570.9,781.9 L572.9,781.7 L574.9,781.5 L576.9,781.3 L578.9,781.1 L580.9,780.9 L582.9,780.7 L584.9,780.5 L586.9,780.3 L588.9,780.1 L590.9,779.9 L592.9,779.7 L594.8,779.5 L596.8,779.3 L598.8,779.1 L600.8,778.9 L602.8,778.7 L604.8,778.5 L606.8,778.2 L608.8,778.0 L610.8,777.7 L612.7,777.5 L614.7,777.2 L616.7,776.9 L618.7,776.7 L620.7,776.4 L622.7,776.2 L624.6,775.9 L626.6,775.5 L628.6,775.2 L630.5,774.8 L632.5,774.4 L634.5,774.1 L636.4,773.7 L638.4,773.3 L640.4,773.0 L642.3,772.6 L644.3,772.2 L646.3,772.0 L648.3,771.8 L650.3,771.7 L652.3,771.7 L654.3,771.6 L656.3,771.6 L658.3,771.5 L660.3,771.4 L662.3,771.4 L664.3,771.3 L666.3,771.3 L668.3,771.2 L670.3,771.2 L672.3,771.1 L674.3,771.1 L676.3,771.0 L678.3,771.0 L680.3,770.9 L682.3,770.9 L684.3,770.8 L686.3,770.8 L688.3,770.7 L690.3,770.7 L692.3,770.6 L694.3,770.6 L696.3,770.5 L698.3,770.4 L700.3,770.4 L702.3,770.3 L704.3,770.2 L706.3,770.2 L708.3,770.1 L710.3,770.0 L712.3,770.0 L714.3,769.9 L716.3,769.8 L718.3,769.8 L720.3,769.7 L722.3,769.6 L724.3,769.6 L726.3,769.5 L728.3,769.4 L730.3,769.4 L732.3,769.3 L734.3,769.3 L736.3,769.2 L738.3,769.1 L740.3,769.1 L742.3,769.0 L744.3,769.0 L746.3,768.9 L748.3,768.8 L750.3,768.8 L752.3,768.7 L754.3,768.7 L756.3,768.6 L758.3,768.5 L760.3,768.4 L762.3,768.1 L764.2,767.8 L766.2,767.5 L768.2,767.2 L770.2,766.8 L772.1,766.5 L774.1,766.0 L776.0,765.5 L777.9,764.9 L779.8,764.4 L781.7,763.8 L783.7,763.2 L785.6,762.7 L787.5,762.1 L789.5,761.6 L791.4,761.1 L793.3,760.6 L795.3,760.1 L797.2,759.6 L799.1,759.1 L801.0,758.5 L802.9,757.8 L804.8,757.2 L806.7,756.5 L808.6,755.9 L810.5,755.2 L812.4,754.5 L814.2,753.8 L816.1,753.1 L817.9,752.3 L819.8,751.6 L821.7,750.8 L823.5,750.1 L825.4,749.5 L827.3,748.9 L829.3,748.4 L831.2,747.9 L833.1,747.4 L835.1,747.0 L837.0,746.6 L839.0,746.6 L840.9,746.8 L842.9,747.2 L844.9,747.6 L846.8,748.0 L848.8,748.4 L850.7,749.0 L852.5,749.8 L854.2,750.8 L855.9,751.8 L857.7,752.8 L859.4,753.8 L861.0,754.9 L862.4,756.3 L863.9,757.6 L865.3,759.0 L866.8,760.4 L868.3,761.7 L869.8,763.0 L871.3,764.3 L872.9,765.6 L874.4,766.9 L875.9,768.2 L877.5,769.4 L879.0,770.7 L880.6,771.9 L882.3,773.1 L883.9,774.2 L885.5,775.3 L887.2,776.4 L889.0,777.3 L890.8,778.0 L892.8,778.5 L894.7,779.1 L896.6,779.6 L898.5,780.2 L900.5,780.7 L902.4,781.2 L904.4,781.6 L906.3,781.9 L908.3,782.3 L910.3,782.7 L912.2,783.0 L914.2,783.4 L916.2,783.6 L918.2,783.8 L920.2,783.8 L922.2,783.8 L924.2,783.9 L926.2,783.9 L928.2,783.9 L930.2,783.9 L932.2,783.9 L934.2,783.9 L936.2,784.0 L938.2,784.0 L940.2,784.0 L942.2,784.0 L944.2,784.0 L946.2,784.0 L948.2,784.1 L950.2,784.1 L952.2,784.1 L954.2,784.1 L956.2,784.1 L958.2,784.2 L960.2,784.2 L962.2,784.2 L964.2,784.3 L966.2,784.3 L968.2,784.4 L970.2,784.4 L972.2,784.4 L974.2,784.5 L976.2,784.5 L978.2,784.5 L980.2,784.6 L982.2,784.6 L984.2,784.6 L986.2,784.7 L988.2,784.7 L990.2,784.7 L992.2,784.8 L994.2,784.8 L996.2,784.8 L998.2,784.9 L1000.2,784.9 L1002.2,784.9 L1004.2,785.0 L1006.2,785.0 L1008.2,785.0 L1010.2,785.1 L1012.2,785.1 L1014.2,785.2 L1016.2,785.2 L1018.2,785.3 L1020.2,785.4 L1022.2,785.6 L1024.2,785.7 L1026.2,785.9 L1028.2,786.0 L1030.2,786.2 L1032.2,786.3 L1034.2,786.5 L1036.2,786.6 L1038.2,786.8 L1040.2,786.9 L1042.1,787.1 L1044.1,787.3 L1046.1,787.4 L1048.1,787.6 L1050.1,787.7 L1052.1,787.9 L1054.1,788.1 L1056.1,788.3 L1058.1,788.5 L1060.1,788.7 L1062.1,789.0 L1064.1,789.2 L1066.0,789.5 L1068.0,789.7 L1070.0,790.0 L1072.0,790.2 L1074.0,790.5 L1076.0,790.8 L1077.9,791.0 L1079.9,791.3 L1081.9,791.5 L1083.9,791.7 L1085.9,791.8 L1087.9,792.0 L1089.9,792.1 L1091.9,792.2 L1093.9,792.3 L1095.9,792.4 L1097.9,792.6 L1099.9,792.6 L1101.9,792.7 L1103.9,792.7 L1105.9,792.7 L1107.9,792.7 L1109.9,792.7 L1111.9,792.7 L1113.9,792.7 L1115.9,792.7 L1117.9,792.7 L1119.9,792.7 L1121.9,792.7 L1123.9,792.7 L1125.9,792.7 L1127.9,792.7 L1129.9,792.7 L1131.9,792.7 L1133.9,792.7 L1135.9,792.7 L1137.9,792.7 L1139.9,792.7 L1141.9,792.7 L1143.9,792.7 L1145.9,792.7 L1147.9,792.7 L1149.9,792.7 L1151.9,792.7 L1153.9,792.7 L1155.9,792.7 L1157.9,792.7 L1159.9,792.7 L1161.9,792.7 L1163.9,792.7 L1165.9,792.7 L1167.9,792.7 L1169.9,792.7 L1171.9,792.7 L1173.9,792.7 L1175.9,792.7 L1177.9,792.7 L1179.9,792.7 L1181.9,792.7 L1183.9,792.7 L1185.9,792.7 L1187.9,792.7 L1189.9,792.7 L1191.9,792.7 L1193.9,792.7 L1195.9,792.7 L1197.9,792.7 L1199.9,792.7 L1201.9,792.7 L1203.9,792.7 L1205.9,792.7 L1207.9,792.7 L1209.9,792.8 L1211.9,792.8 L1213.9,792.8 L1215.9,792.8 L1217.9,792.8 L1219.9,792.8 L1221.9,792.8 L1223.9,792.8 L1225.9,792.8 L1228.0,792.8 L1230.0,792.8 L1232.0,792.8 L1234.0,792.8 L1236.0,792.8 L1238.0,792.8 L1240.0,792.8 L1242.0,792.8 L1244.0,792.8 L1246.0,792.8 L1248.0,792.8 L1250.0,792.8 L1252.0,792.8 L1254.0,792.8 L1256.0,792.8 L1258.0,792.8 L1260.0,792.8 L1262.0,792.8 L1264.0,792.8 L1266.0,792.8 L1268.0,792.8 L1270.0,792.8 L1272.0,792.8 L1274.0,792.8 L1276.0,792.8 L1278.0,792.8 L1280.0,792.8 L1282.0,792.8 L1284.0,792.8 L1286.0,792.8 L1288.0,792.8 L1290.0,792.8 L1292.0,792.8 L1294.0,792.8 L1296.0,792.8 L1298.0,792.8 L1300.0,792.8 L1302.0,792.8 L1304.0,792.8 L1306.0,792.8 L1308.0,792.8 L1310.0,792.8 L1312.0,792.8 L1314.0,792.8 L1316.0,792.8 L1318.0,792.8" stroke="#ff0000"/>
<path d="M133.0,619.0 L135.0,618.6 L136.9,618.3 L138.9,617.9 L140.9,617.5 L142.8,617.2 L144.8,616.8 L146.8,616.4 L148.7,616.0 L150.7,615.6 L152.6,615.2 L154.6,614.7 L156.5,614.1 L158.4,613.6 L160.3,613.0 L162.3,612.5 L164.2,612.0 L166.1,611.5 L168.1,611.1 L170.1,610.7 L172.0,610.4 L174.0,610.2 L176.0,609.9 L178.0,609.6 L179.9,609.4 L181.9,609.4 L183.8,609.7 L185.7,610.3 L187.6,610.9 L189.5,611.6 L191.4,612.2 L193.3,612.9 L195.1,613.6 L196.9,614.5 L198.7,615.4 L200.5,616.3 L202.3,617.3 L204.0,618.2 L205.8,619.1 L207.6,620.0 L209.4,621.0 L211.2,621.8 L213.0,622.6 L214.9,623.3 L216.8,623.9 L218.7,624.5 L220.6,625.1 L222.5,625.7 L224.4,626.3 L226.3,626.8 L228.3,627.4 L230.2,627.8 L232.1,628.3 L234.1,628.8 L236.0,629.2 L238.0,629.7 L239.9,630.1 L241.9,630.6 L243.8,631.0 L245.8,631.4 L247.7,631.8 L249.7,632.1 L251.7,632.3 L253.7,632.3 L255.7,632.4 L257.7,632.5 L259.7,632.5 L261.7,632.6 L263.7,632.7 L265.7,632.7 L267.7,632.8 L269.7,633.0 L271.7,633.2 L273.6,633.6 L275.6,634.1 L277.5,634.5 L279.5,635.0 L281.4,635.5 L283.3,636.0 L285.2,636.6 L287.0,637.4 L288.7,638.4 L290.4,639.4 L292.1,640.5 L293.8,641.5 L295.5,642.6 L297.2,643.7 L298.9,644.7 L300.6,645.8 L302.3,646.8 L304.1,647.7 L305.9,648.6 L307.7,649.4 L309.6,650.3 L311.4,651.1 L313.2,651.9 L315.0,652.7 L316.9,653.5 L318.7,654.3 L320.5,655.2 L322.3,656.0 L324.2,656.8 L326.0,657.5 L327.9,658.2 L329.8,658.8 L331.7,659.5 L333.6,660.2 L335.5,660.8 L337.3,661.5 L339.2,662.2 L341.1,662.8 L343.0,663.5 L344.9,664.1 L346.8,664.6 L348.8,665.0 L350.8,665.3 L352.8,665.5 L354.7,665.8 L356.7,666.1 L358.7,666.3 L360.7,666.6 L362.7,666.8 L364.7,667.1 L366.6,667.4 L368.6,667.6 L370.6,667.9 L372.6,668.2 L374.6,668.4 L376.6,668.7 L378.5,668.9 L380.5,669.1 L382.5,669.2 L384.5,669.3 L386.5,669.4 L388.5,669.6 L390.5,669.7 L392.5,669.8 L394.5,669.9 L396.5,670.0 L398.5,670.2 L400.5,670.3 L402.5,670.4 L404.5,670.5 L406.5,670.6 L408.5,670.7 L410.5,670.9 L412.5,671.0 L414.5,671.1 L416.5,671.2 L418.5,671.3 L420.5,671.4 L422.5,671.6 L424.5,671.7 L426.5,671.8 L428.5,671.8 L430.5,671.8 L432.5,671.9 L434.5,671.9 L436.5,671.9 L438.5,671.9 L440.5,672.0 L442.5,672.0 L444.5,672.0 L446.5,672.0 L448.5,672.1 L450.5,672.1 L452.5,672.1 L454.5,672.1 L456.5,672.1 L458.5,672.2 L460.5,672.2 L462.5,672.2 L464.5,672.2 L466.5,672.3 L468.5,672.3 L470.5,672.3 L472.5,672.3 L474.5,672.3 L476.5,672.3 L478.5,672.3 L480.5,672.3 L482.5,672.3 L484.5,672.3 L486.5,672.3 L488.5,672.3 L490.5,672.3 L492.5,672.3 L494.5,672.3 L496.5,672.3 L498.5,672.3 L500.5,672.3 L502.5,672.3 L504.5,672.2 L506.5,672.1 L508.5,671.8 L510.4,671.5 L512.4,671.2 L514.4,670.9 L516.4,670.6 L518.3,670.3 L520.3,670.1 L522.3,669.8 L524.3,669.6 L526.3,669.3 L528.3,669.1 L530.2,668.9 L532.2,668.6 L534.2,668.4 L536.2,668.1 L538.2,667.9 L540.2,667.5 L542.1,667.2 L544.1,666.8 L546.1,666.5 L548.0,666.1 L550.0,665.8 L552.0,665.4 L553.9,665.1 L555.9,664.7 L557.9,664.4 L559.8,664.0 L561.8,663.6 L563.8,663.2 L565.7,662.7 L567.7,662.3 L569.6,661.9 L571.6,661.5 L573.5,661.0 L575.5,660.6 L577.4,660.2 L579.4,659.7 L581.3,659.3 L583.3,658.7 L585.2,658.2 L587.1,657.6 L589.0,657.0 L590.9,656.5 L592.9,655.9 L594.8,655.3 L596.7,654.7 L598.6,654.2 L600.5,653.6 L602.4,653.0 L604.3,652.3 L606.2,651.6 L608.0,650.9 L609.9,650.1 L611.7,649.4 L613.6,648.6 L615.5,647.9 L617.3,647.1 L619.2,646.4 L621.0,645.6 L622.9,644.9 L624.7,644.1 L626.6,643.4 L628.5,642.7 L630.3,642.0 L632.2,641.3 L634.1,640.6 L636.0,639.9 L637.8,639.2 L639.7,638.5 L641.6,637.8 L643.4,637.0 L645.3,636.3 L647.2,635.5 L649.0,634.7 L650.8,633.9 L652.6,633.0 L654.4,632.2 L656.2,631.3 L658.0,630.5 L659.8,629.6 L661.6,628.7 L663.5,627.9 L665.3,627.1 L667.1,626.2 L669.0,625.5 L670.8,624.9 L672.8,624.3 L674.7,623.7 L676.6,623.1 L678.5,622.6 L680.4,622.0 L682.3,621.4 L684.3,620.8 L686.2,620.3 L688.1,619.8 L690.0,619.4 L692.0,619.3 L694.0,619.3 L696.0,619.3 L698.0,619.4 L700.0,619.5 L702.0,619.6 L704.0,619.7 L706.0,619.9 L708.0,620.0 L710.0,620.3 L711.9,620.6 L713.9,621.0 L715.8,621.5 L717.8,622.0 L719.7,622.5 L721.7,622.9 L723.6,623.2 L725.6,623.5 L727.6,623.8 L729.6,624.0 L731.6,624.3 L733.5,624.5 L735.5,624.8 L737.5,625.1 L739.5,625.3 L741.5,625.5 L743.5,625.6 L745.4,625.5 L747.4,625.3 L749.4,625.0 L751.4,624.8 L753.4,624.5 L755.4,624.2 L757.3,624.0 L759.3,623.7 L761.3,623.5 L763.3,623.2 L765.3,622.8 L767.2,622.4 L769.1,621.9 L771.1,621.4 L773.0,620.8 L774.9,620.3 L776.9,619.8 L778.8,619.3 L780.7,618.8 L782.7,618.3 L784.6,617.8 L786.6,617.3 L788.5,616.8 L790.4,616.2 L792.2,615.4 L794.0,614.5 L795.8,613.6 L797.6,612.7 L799.3,611.8 L801.1,610.8 L802.7,609.6 L804.4,608.5 L806.0,607.4 L807.6,606.2 L809.3,605.1 L810.9,603.9 L812.5,602.8 L814.2,601.6 L815.8,600.5 L817.4,599.3 L819.1,598.1 L820.6,596.9 L822.2,595.6 L823.7,594.3 L825.1,592.9 L826.6,591.6 L828.1,590.3 L829.6,588.9 L831.2,587.7 L832.7,586.4 L834.3,585.2 L835.9,584.0 L837.6,582.9 L839.3,582.0 L841.2,581.3 L843.1,580.7 L845.0,580.5 L847.0,580.4 L849.0,580.5 L850.8,580.8 L852.4,581.6 L853.8,582.9 L855.0,584.4 L856.1,586.0 L857.2,587.7 L858.1,589.5 L859.0,591.3 L859.8,593.1 L860.6,594.9 L861.4,596.8 L862.3,598.6 L863.1,600.4 L863.9,602.2 L864.7,604.1 L865.5,605.9 L866.4,607.7 L867.2,609.5 L868.0,611.4 L868.8,613.2 L869.6,615.0 L870.4,616.8 L871.3,618.7 L872.1,620.5 L872.9,622.3 L873.7,624.1 L874.5,626.0 L875.4,627.8 L876.2,629.6 L877.2,631.4 L878.2,633.1 L879.2,634.8 L880.3,636.4 L881.5,638.1 L882.7,639.6 L884.1,641.0 L885.6,642.3 L887.2,643.6 L888.7,644.9 L890.2,646.2 L891.8,647.5 L893.4,648.6 L895.0,649.8 L896.7,650.8 L898.4,652.0 L900.0,653.1 L901.7,654.2 L903.3,655.3 L905.0,656.4 L906.7,657.4 L908.6,658.2 L910.4,659.0 L912.3,659.7 L914.1,660.4 L916.1,660.9 L918.0,661.4 L920.0,661.8 L921.9,662.2 L923.9,662.6 L925.8,663.0 L927.8,663.4 L929.8,663.7 L931.7,664.1 L933.7,664.4 L935.7,664.6 L937.7,664.8 L939.7,665.0 L941.7,665.2 L943.7,665.3 L945.7,665.5 L947.6,665.7 L949.6,665.7 L951.6,665.5 L953.6,665.2 L955.6,665.0 L957.5,664.7 L959.5,664.4 L961.5,664.1 L963.5,663.8 L965.5,663.5 L967.4,663.2 L969.4,662.9 L971.4,662.6 L973.4,662.3 L975.4,662.0 L977.3,661.7 L979.3,661.4 L981.3,661.1 L983.3,660.9 L985.3,660.8 L987.3,660.7 L989.3,660.7 L991.3,660.7 L993.3,660.7 L995.3,660.7 L997.3,660.7 L999.3,660.7 L1001.3,660.9 L1003.2,661.1 L1005.2,661.5 L1007.1,661.9 L1009.1,662.3 L1011.1,662.7 L1013.0,663.1 L1015.0,663.5 L1017.0,663.9 L1018.9,664.3 L1020.9,664.7 L1022.8,665.1 L1024.8,665.4 L1026.8,665.8 L1028.7,666.2 L1030.7,666.6 L1032.7,667.0 L1034.6,667.3 L1036.6,667.7 L1038.6,668.0 L1040.5,668.3 L1042.5,668.6 L1044.5,668.9 L1046.5,669.2 L1048.5,669.5 L1050.4,669.8 L1052.4,670.2 L1054.3,670.6 L1056.3,671.1 L1058.2,671.7 L1060.1,672.3 L1062.0,672.9 L1063.9,673.4 L1065.9,674.0 L1067.8,674.6 L1069.7,675.1 L1071.6,675.6 L1073.6,676.0 L1075.6,676.4 L1077.5,676.8 L1079.5,677.2 L1081.4,677.6 L1083.4,678.0 L1085.4,678.4 L1087.3,678.8 L1089.3,679.2 L1091.2,679.6 L1093.2,680.0 L1095.2,680.3 L1097.1,680.7 L1099.1,681.1 L1101.1,681.5 L1103.0,681.9 L1105.0,682.2 L1107.0,682.4 L1109.0,682.5 L1111.0,682.7 L1113.0,682.8 L1115.0,682.9 L1117.0,683.1 L1119.0,683.2 L1121.0,683.3 L1123.0,683.3 L1125.0,683.4 L1127.0,683.5 L1129.0,683.5 L1131.0,683.6 L1133.0,683.7 L1135.0,683.8 L1137.0,683.8 L1139.0,683.9 L1141.0,684.0 L1143.0,684.0 L1145.0,684.1 L1147.0,684.2 L1148.9,684.2 L1150.9,684.3 L1152.9,684.4 L1154.9,684.4 L1156.9,684.5 L1158.9,684.5 L1160.9,684.5 L1162.9,684.5 L1165.0,684.5 L1167.0,684.5 L1169.0,684.5 L1171.0,684.5 L1173.0,684.6 L1175.0,684.6 L1177.0,684.6 L1179.0,684.6 L1181.0,684.6 L1183.0,684.6 L1185.0,684.6 L1187.0,684.6 L1189.0,684.6 L1191.0,684.6 L1193.0,684.6 L1195.0,684.6 L1197.0,684.6 L1199.0,684.6 L1201.0,684.6 L1203.0,684.6 L1205.0,684.6 L1207.0,684.7 L1209.0,684.7 L1211.0,684.7 L1213.0,684.7 L1215.0,684.7 L1217.0,684.7 L1219.0,684.7 L1221.0,684.7 L1223.0,684.7 L1225.0,684.7 L1227.0,684.7 L1229.0,684.7 L1231.0,684.7 L1233.0,684.7 L1235.0,684.7 L1237.0,684.7 L1239.0,684.8 L1241.0,684.8 L1243.0,684.8 L1245.0,684.8 L1247.0,684.8 L1249.0,684.8 L1251.0,684.8 L1253.0,684.8 L1255.0,684.8 L1257.0,684.8 L1259.0,684.8 L1261.0,684.8 L1263.0,684.8 L1265.0,684.8 L1267.0,684.8 L1269.0,684.8 L1271.0,684.9 L1273.0,684.9 L1275.0,684.9 L1277.0,684.9 L1279.0,684.9 L1281.0,684.9 L1283.0,684.9 L1285.0,684.9 L1287.0,684.9 L1289.0,684.9 L1291.0,684.9 L1293.0,684.9 L1295.0,684.9 L1297.0,684.9 L1299.0,684.9 L1301.0,684.9 L1303.0,685.0 L1305.0,685.0 L1307.0,685.0 L1309.0,685.0 L1311.0,685.0 L1313.0,685.0 L1315.0,685.0 L1317.0,685.0 L1318.0,685.0" stroke="#0000ff"/>
<path d="M133.0,500.0 L135.0,500.1 L137.0,500.2 L139.0,500.1 L141.0,500.0 L143.0,499.9 L145.0,499.8 L147.0,499.7 L149.0,499.5 L151.0,499.4 L153.0,499.1 L154.9,498.9 L156.9,498.7 L158.9,498.4 L160.9,498.1 L162.8,497.7 L164.7,497.1 L166.6,496.4 L168.4,495.6 L170.3,494.9 L172.2,494.1 L174.0,493.4 L175.8,492.5 L177.6,491.6 L179.4,490.7 L181.2,489.9 L183.0,489.3 L184.9,489.2 L186.9,489.4 L188.8,489.7 L190.7,490.3 L192.5,491.0 L194.3,492.0 L196.0,493.0 L197.7,494.0 L199.5,495.0 L201.2,496.0 L203.0,496.9 L204.7,497.9 L206.4,498.9 L208.2,499.9 L209.9,500.9 L211.7,501.8 L213.4,502.8 L215.2,503.8 L217.0,504.6 L218.8,505.4 L220.7,506.0 L222.6,506.7 L224.5,507.4 L226.4,508.0 L228.3,508.7 L230.2,509.4 L232.0,510.0 L233.9,510.7 L235.8,511.3 L237.7,511.9 L239.7,512.3 L241.7,512.5 L243.7,512.8 L245.6,513.0 L247.6,513.2 L249.6,513.4 L251.6,513.6 L253.6,513.8 L255.6,514.0 L257.6,514.1 L259.6,514.2 L261.6,514.2 L263.6,514.2 L265.6,514.0 L267.6,513.9 L269.6,513.8 L271.6,513.7 L273.6,513.5 L275.5,513.5 L277.5,513.7 L279.4,514.2 L281.3,514.8 L283.2,515.4 L285.1,516.1 L287.0,516.8 L288.8,517.5 L290.7,518.2 L292.6,518.9 L294.4,519.8 L296.2,520.6 L298.0,521.5 L299.8,522.4 L301.6,523.3 L303.3,524.2 L305.1,525.1 L306.9,526.0 L308.7,526.9 L310.5,527.8 L312.3,528.6 L314.1,529.5 L316.0,530.3 L317.8,531.0 L319.7,531.8 L321.5,532.5 L323.4,533.3 L325.2,534.0 L327.1,534.8 L328.9,535.5 L330.8,536.3 L332.7,537.0 L334.5,537.7 L336.5,538.2 L338.4,538.7 L340.4,539.0 L342.3,539.3 L344.3,539.7 L346.3,540.0 L348.3,540.4 L350.2,540.7 L352.2,541.0 L354.2,541.4 L356.2,541.7 L358.1,541.9 L360.1,542.1 L362.1,542.3 L364.1,542.5 L366.1,542.7 L368.1,542.8 L370.1,543.0 L372.1,543.2 L374.1,543.4 L376.1,543.5 L378.1,543.7 L380.1,543.9 L382.1,544.0 L384.0,544.2 L386.0,544.4 L388.0,544.5 L390.0,544.7 L392.0,544.8 L394.0,544.9 L396.0,545.1 L398.0,545.2 L400.0,545.3 L402.0,545.4 L404.0,545.5 L406.0,545.6 L408.0,545.7 L410.0,545.9 L412.0,546.0 L414.0,546.1 L416.0,546.2 L418.0,546.3 L420.0,546.4 L422.0,546.5 L424.0,546.7 L426.0,546.8 L428.0,546.9 L430.0,546.9 L432.0,547.0 L434.0,547.1 L436.0,547.2 L438.0,547.3 L440.0,547.4 L442.0,547.5 L444.0,547.5 L446.0,547.6 L448.0,547.7 L450.0,547.8 L452.0,547.9 L454.0,548.0 L456.0,548.0 L458.0,548.1 L460.0,548.2 L462.0,548.3 L464.0,548.3 L466.0,548.3 L468.0,548.3 L470.0,548.3 L472.0,548.3 L474.0,548.3 L476.0,548.3 L478.0,548.3 L480.0,548.3 L482.0,548.3 L484.0,548.3 L486.0,548.3 L488.0,548.3 L490.0,548.3 L492.0,548.3 L494.0,548.3 L496.0,548.3 L498.0,548.3 L500.0,548.3 L502.0,548.3 L504.0,548.3 L506.0,548.2 L508.0,547.9 L510.0,547.6 L511.9,547.3 L513.9,547.0 L515.9,546.6 L517.9,546.3 L519.8,546.1 L521.8,545.8 L523.8,545.5 L525.8,545.2 L527.8,544.9 L529.7,544.7 L531.7,544.4 L533.7,544.1 L535.7,543.8 L537.7,543.6 L539.6,543.2 L541.6,542.9 L543.6,542.6 L545.6,542.2 L547.5,541.9 L549.5,541.6 L551.5,541.2 L553.5,540.9 L555.4,540.6 L557.4,540.2 L559.4,539.8 L561.3,539.3 L563.2,538.8 L565.1,538.2 L567.1,537.6 L569.0,537.1 L570.9,536.5 L572.8,535.9 L574.7,535.3 L576.6,534.8 L578.5,534.2 L580.4,533.6 L582.3,532.9 L584.2,532.1 L586.0,531.3 L587.8,530.5 L589.7,529.7 L591.5,528.8 L593.3,528.0 L595.1,527.2 L597.0,526.4 L598.8,525.6 L600.6,524.8 L602.4,523.9 L604.2,523.0 L606.0,522.1 L607.8,521.2 L609.6,520.3 L611.4,519.4 L613.1,518.5 L614.9,517.6 L616.7,516.6 L618.4,515.7 L620.2,514.7 L621.9,513.6 L623.6,512.6 L625.3,511.5 L627.0,510.5 L628.7,509.4 L630.4,508.4 L632.2,507.5 L634.0,506.6 L635.8,505.7 L637.5,504.8 L639.3,503.9 L641.1,502.9 L642.8,501.9 L644.5,500.9 L646.2,499.8 L648.0,498.8 L649.7,497.8 L651.3,496.7 L653.0,495.5 L654.6,494.4 L656.3,493.2 L657.9,492.1 L659.5,490.9 L661.2,489.8 L662.8,488.6 L664.4,487.5 L666.1,486.3 L667.7,485.2 L669.3,484.0 L670.9,482.7 L672.3,481.4 L673.8,480.0 L675.2,478.6 L676.6,477.2 L678.1,475.8 L679.5,474.4 L681.0,473.0 L682.4,471.7 L683.9,470.4 L685.5,469.2 L687.3,468.3 L689.1,467.7 L691.0,467.1 L692.9,466.6 L694.9,466.3 L696.7,466.4 L698.6,466.8 L700.5,467.5 L702.3,468.3 L704.1,469.2 L705.7,470.3 L707.3,471.5 L708.9,472.8 L710.4,474.0 L711.9,475.4 L713.4,476.8 L714.8,478.2 L716.2,479.6 L717.6,481.0 L719.1,482.3 L720.6,483.7 L722.1,485.0 L723.6,486.3 L725.2,487.6 L726.8,488.7 L728.4,489.8 L730.1,490.9 L731.9,491.9 L733.6,492.9 L735.3,493.9 L737.1,494.9 L738.8,495.8 L740.6,496.7 L742.4,497.6 L744.2,498.4 L746.1,499.1 L748.0,499.6 L749.9,499.9 L751.9,500.1 L753.9,500.4 L755.9,500.6 L757.9,500.8 L759.9,501.0 L761.9,501.1 L763.9,501.1 L765.9,501.1 L767.9,501.0 L769.9,501.0 L771.9,500.9 L773.9,500.9 L775.9,500.9 L777.9,500.8 L779.9,500.8 L781.9,500.7 L783.9,500.6 L785.9,500.5 L787.8,500.2 L789.8,499.9 L791.8,499.5 L793.7,499.0 L795.7,498.6 L797.6,498.1 L799.6,497.7 L801.5,497.2 L803.5,496.7 L805.4,496.2 L807.3,495.7 L809.2,495.1 L810.9,494.2 L812.6,493.1 L814.1,491.8 L815.7,490.6 L817.2,489.3 L818.8,488.1 L820.3,486.8 L821.8,485.5 L823.4,484.2 L824.9,482.9 L826.4,481.6 L828.0,480.3 L829.5,479.0 L830.9,477.7 L832.1,476.1 L833.1,474.4 L834.1,472.6 L835.0,470.9 L836.0,469.2 L837.1,467.5 L838.1,465.8 L839.2,464.1 L840.3,462.4 L841.3,460.7 L842.4,459.0 L843.5,457.3 L844.6,455.7 L845.9,454.3 L847.5,453.3 L849.3,452.8 L851.2,452.8 L853.0,453.3 L854.6,454.3 L856.1,455.6 L857.3,457.1 L858.4,458.7 L859.4,460.5 L860.3,462.2 L861.2,464.0 L862.1,465.8 L862.9,467.7 L863.7,469.5 L864.5,471.3 L865.2,473.2 L866.0,475.0 L866.7,476.9 L867.4,478.8 L868.2,480.6 L868.9,482.5 L869.6,484.4 L870.4,486.2 L871.2,488.1 L871.9,489.9 L872.7,491.7 L873.6,493.6 L874.4,495.4 L875.3,497.2 L876.3,498.9 L877.2,500.7 L878.2,502.4 L879.2,504.1 L880.3,505.8 L881.5,507.4 L882.6,509.1 L883.8,510.7 L885.0,512.3 L886.2,513.9 L887.5,515.4 L888.9,516.9 L890.2,518.3 L891.6,519.8 L893.1,521.2 L894.5,522.5 L896.0,523.8 L897.5,525.2 L899.1,526.5 L900.6,527.7 L902.2,529.0 L903.7,530.2 L905.3,531.4 L907.0,532.4 L908.8,533.4 L910.6,534.2 L912.5,535.0 L914.3,535.7 L916.2,536.3 L918.1,536.9 L920.1,537.4 L922.0,537.9 L924.0,538.2 L926.0,538.5 L927.9,538.7 L929.9,538.9 L931.9,539.0 L933.9,539.2 L935.9,539.2 L937.9,539.2 L939.9,539.2 L941.9,539.2 L943.9,539.1 L945.9,539.1 L947.9,539.0 L949.9,539.0 L951.9,538.8 L953.9,538.7 L955.9,538.5 L957.9,538.3 L959.9,538.1 L961.8,537.7 L963.8,537.3 L965.7,536.8 L967.7,536.3 L969.6,535.8 L971.5,535.2 L973.4,534.6 L975.3,533.9 L977.2,533.2 L979.1,532.6 L981.0,532.0 L982.9,531.5 L984.9,531.0 L986.8,530.5 L988.7,530.0 L990.7,529.6 L992.6,529.2 L994.6,528.9 L996.6,528.6 L998.6,528.4 L1000.6,528.1 L1002.6,527.9 L1004.5,527.6 L1006.5,527.5 L1008.5,527.6 L1010.5,527.8 L1012.5,528.0 L1014.5,528.3 L1016.4,528.6 L1018.4,528.9 L1020.3,529.5 L1022.2,530.2 L1024.0,531.0 L1025.8,531.8 L1027.6,532.6 L1029.4,533.5 L1031.2,534.4 L1033.0,535.2 L1034.8,536.1 L1036.6,537.0 L1038.4,537.9 L1040.2,538.8 L1042.0,539.7 L1043.8,540.6 L1045.6,541.5 L1047.4,542.2 L1049.3,542.9 L1051.2,543.4 L1053.1,544.0 L1055.1,544.6 L1057.0,545.2 L1058.9,545.7 L1060.8,546.3 L1062.8,546.8 L1064.7,547.2 L1066.7,547.6 L1068.6,548.0 L1070.6,548.4 L1072.6,548.8 L1074.5,549.2 L1076.5,549.6 L1078.4,550.0 L1080.4,550.4 L1082.4,550.8 L1084.3,551.2 L1086.3,551.5 L1088.3,551.9 L1090.2,552.3 L1092.2,552.7 L1094.2,553.1 L1096.1,553.4 L1098.1,553.8 L1100.1,554.1 L1102.1,554.3 L1104.0,554.5 L1106.0,554.7 L1108.0,554.9 L1110.0,555.1 L1112.0,555.3 L1114.0,555.5 L1116.0,555.7 L1118.0,555.9 L1120.0,556.1 L1122.0,556.3 L1124.0,556.5 L1125.9,556.7 L1127.9,556.9 L1129.9,557.1 L1131.9,557.3 L1133.9,557.4 L1135.9,557.4 L1137.9,557.5 L1139.9,557.5 L1141.9,557.5 L1143.9,557.5 L1145.9,557.5 L1147.9,557.6 L1149.9,557.6 L1151.9,557.6 L1153.9,557.6 L1155.9,557.6 L1157.9,557.7 L1159.9,557.7 L1161.9,557.7 L1163.9,557.7 L1165.9,557.7 L1167.9,557.8 L1169.9,557.8 L1171.9,557.8 L1173.9,557.8 L1175.9,557.9 L1177.9,557.9 L1179.9,557.9 L1181.9,557.9 L1183.9,558.0 L1185.9,558.0 L1187.9,558.1 L1189.9,558.1 L1191.9,558.2 L1193.9,558.2 L1195.9,558.3 L1197.9,558.3 L1199.9,558.3 L1201.9,558.4 L1203.9,558.4 L1205.9,558.5 L1207.9,558.5 L1209.9,558.6 L1212.0,558.6 L1214.0,558.7 L1216.0,558.7 L1218.0,558.8 L1220.0,558.8 L1222.0,558.9 L1224.0,558.9 L1226.0,558.9 L1228.0,559.0 L1230.0,559.0 L1232.0,559.1 L1234.0,559.1 L1236.0,559.1 L1238.0,559.1 L1240.0,559.2 L1242.0,559.2 L1244.0,559.2 L1246.0,559.2 L1248.0,559.3 L1250.0,559.3 L1252.0,559.3 L1254.0,559.3 L1256.0,559.4 L1258.0,559.4 L1260.0,559.4 L1262.0,559.5 L1264.0,559.5 L1266.0,559.5 L1268.0,559.5 L1270.0,559.6 L1272.0,559.6 L1274.0,559.6 L1276.0,559.6 L1278.0,559.7 L1280.0,559.7 L1282.0,559.7 L1284.0,559.7 L1286.0,559.8 L1288.0,559.8 L1290.0,559.8 L1292.0,559.9 L1294.0,559.9 L1296.0,559.9 L1298.0,559.9 L1300.0,560.0 L1302.0,560.0 L1304.0,560.0 L1306.0,560.0 L1308.0,560.1 L1310.0,560.1 L1312.0,560.1 L1314.0,560.1 L1316.0,560.2 L1318.0,560.2" stroke="#000000"/>
</g>
<text x="89.71" y="1268.50" font-size="51.00" textLength="86.21" lengthAdjust="spacingAndGlyphs" fill="#000">200</text>
<text x="326.03" y="1268.50" font-size="51.00" textLength="85.06" lengthAdjust="spacingAndGlyphs" fill="#000">400</text>
<text x="564.04" y="1268.50" font-size="51.00" textLength="84.74" lengthAdjust="spacingAndGlyphs" fill="#000">600</text>
<text x="799.49" y="1268.50" font-size="51.00" textLength="84.48" lengthAdjust="spacingAndGlyphs" fill="#000">800</text>
<path d="M808,0L527,0L527,1059C449,986 356,932 250,890C220,878 190,868 165,861L165,1116C250,1144 340,1190 430,1260C520,1330 570,1400 598,1466L808,1466Z" fill="#000" transform="translate(1022.25,1268.50) scale(0.02512,-0.02490)"/>
<text x="1050.87" y="1268.50" font-size="51.00" textLength="85.84" lengthAdjust="spacingAndGlyphs" fill="#000">000</text>
<path d="M808,0L527,0L527,1059C449,986 356,932 250,890C220,878 190,868 165,861L165,1116C250,1144 340,1190 430,1260C520,1330 570,1400 598,1466L808,1466Z" fill="#000" transform="translate(1257.45,1268.50) scale(0.02512,-0.02490)"/>
<text x="1286.07" y="1268.50" font-size="51.00" textLength="85.84" lengthAdjust="spacingAndGlyphs" fill="#000">200</text>
<text x="468.35" y="1344.00" font-size="57.00" textLength="196.91" lengthAdjust="spacingAndGlyphs" fill="#000">Raman</text>
<text x="681.22" y="1344.00" font-size="57.00" textLength="124.70" lengthAdjust="spacingAndGlyphs" fill="#000">shift</text>
<text x="822.08" y="1344.00" font-size="57.00" textLength="104.26" lengthAdjust="spacingAndGlyphs" fill="#000">(cm</text>
<text x="927.33" y="1321.80" font-size="38.50" textLength="13.40" lengthAdjust="spacingAndGlyphs" fill="#000">-</text>
<path d="M808,0L527,0L527,1059C449,986 356,932 250,890C220,878 190,868 165,861L165,1116C250,1144 340,1190 430,1260C520,1330 570,1400 598,1466L808,1466Z" fill="#000" transform="translate(940.73,1321.80) scale(0.01965,-0.01880)"/>
<text x="965.15" y="1344.00" font-size="57.00" textLength="16.17" lengthAdjust="spacingAndGlyphs" fill="#000">)</text>
<g transform="translate(84.40,1022.90) rotate(-90)"><text x="-3.93" y="0.00" font-size="57.00" textLength="740.65" lengthAdjust="spacingAndGlyphs" fill="#000">Raman intensity (arb. unit)</text></g>
<text x="415.81" y="97.50" font-size="43.00" textLength="39.58" lengthAdjust="spacingAndGlyphs" fill="#800000">(i)</text>
<text x="466.26" y="97.50" font-size="44.80" textLength="69.54" lengthAdjust="spacingAndGlyphs" fill="#800000">WO</text>
<text x="547.96" y="97.50" font-size="43.00" textLength="54.23" lengthAdjust="spacingAndGlyphs" fill="#800000">0.5</text>
<text x="601.96" y="97.50" font-size="43.00" textLength="14.48" lengthAdjust="spacingAndGlyphs" fill="#000000">;</text>
<text x="628.25" y="97.50" font-size="43.00" textLength="61.80" lengthAdjust="spacingAndGlyphs" fill="#ff0000">(iv)</text>
<text x="701.66" y="97.50" font-size="44.80" textLength="71.79" lengthAdjust="spacingAndGlyphs" fill="#ff0000">WO</text>
<text x="782.23" y="97.50" font-size="43.00" textLength="55.17" lengthAdjust="spacingAndGlyphs" fill="#ff0000">0.5</text>
<text x="851.16" y="97.50" font-size="43.00" textLength="28.42" lengthAdjust="spacingAndGlyphs" fill="#ff0000">+</text>
<text x="885.75" y="97.50" font-size="43.00" textLength="83.60" lengthAdjust="spacingAndGlyphs" fill="#ff0000">ZnO</text>
<text x="979.37" y="97.50" font-size="43.00" textLength="57.53" lengthAdjust="spacingAndGlyphs" fill="#ff0000">2.0</text>
<text x="415.41" y="148.00" font-size="43.00" textLength="51.17" lengthAdjust="spacingAndGlyphs" fill="#000080">(ii)</text>
<text x="476.96" y="148.00" font-size="44.80" textLength="73.43" lengthAdjust="spacingAndGlyphs" fill="#000080">WO</text>
<path d="M808,0L527,0L527,1059C449,986 356,932 250,890C220,878 190,868 165,861L165,1116C250,1144 340,1190 430,1260C520,1330 570,1400 598,1466L808,1466Z" fill="#000080" transform="translate(558.14,148.00) scale(0.01975,-0.02100)"/>
<text x="580.63" y="148.00" font-size="43.00" textLength="33.73" lengthAdjust="spacingAndGlyphs" fill="#000080">.0</text>
<text x="611.66" y="148.00" font-size="43.00" textLength="20.09" lengthAdjust="spacingAndGlyphs" fill="#000000">;</text>
<text x="639.52" y="148.00" font-size="43.00" textLength="50.95" lengthAdjust="spacingAndGlyphs" fill="#0000ff">(v)</text>
<text x="702.06" y="148.00" font-size="44.80" textLength="72.82" lengthAdjust="spacingAndGlyphs" fill="#0000ff">WO</text>
<path d="M808,0L527,0L527,1059C449,986 356,932 250,890C220,878 190,868 165,861L165,1116C250,1144 340,1190 430,1260C520,1330 570,1400 598,1466L808,1466Z" fill="#0000ff" transform="translate(782.50,148.00) scale(0.02002,-0.02100)"/>
<text x="805.29" y="148.00" font-size="43.00" textLength="34.19" lengthAdjust="spacingAndGlyphs" fill="#0000ff">.0</text>
<text x="851.97" y="148.00" font-size="43.00" textLength="28.18" lengthAdjust="spacingAndGlyphs" fill="#0000ff">+</text>
<text x="886.13" y="148.00" font-size="43.00" textLength="85.05" lengthAdjust="spacingAndGlyphs" fill="#0000ff">ZnO</text>
<text x="978.34" y="148.00" font-size="43.00" textLength="58.59" lengthAdjust="spacingAndGlyphs" fill="#0000ff">2.0</text>
<text x="414.80" y="201.00" font-size="43.00" textLength="63.09" lengthAdjust="spacingAndGlyphs" fill="#808080">(iii)</text>
<text x="488.46" y="201.00" font-size="44.80" textLength="73.43" lengthAdjust="spacingAndGlyphs" fill="#808080">WO</text>
<text x="569.62" y="201.00" font-size="43.00" textLength="55.52" lengthAdjust="spacingAndGlyphs" fill="#808080">2.0</text>
<text x="624.43" y="201.00" font-size="43.00" textLength="14.95" lengthAdjust="spacingAndGlyphs" fill="#000000">;</text>
<text x="651.44" y="201.00" font-size="43.00" textLength="61.91" lengthAdjust="spacingAndGlyphs" fill="#000000">(vi)</text>
<text x="723.76" y="201.00" font-size="44.80" textLength="73.84" lengthAdjust="spacingAndGlyphs" fill="#000000">WO</text>
<text x="805.67" y="201.00" font-size="43.00" textLength="57.43" lengthAdjust="spacingAndGlyphs" fill="#000000">2.0</text>
<text x="874.59" y="201.00" font-size="43.00" textLength="27.95" lengthAdjust="spacingAndGlyphs" fill="#000000">+</text>
<text x="908.13" y="201.00" font-size="43.00" textLength="85.16" lengthAdjust="spacingAndGlyphs" fill="#000000">ZnO</text>
<text x="1004.00" y="201.00" font-size="43.00" textLength="56.05" lengthAdjust="spacingAndGlyphs" fill="#000000">2.0</text>
<g transform="translate(205.30,477.20) rotate(-90)"><text x="-1.58" y="0.00" font-size="46.00" textLength="154.20" lengthAdjust="spacingAndGlyphs" fill="#000">243 cm</text></g>
<g transform="translate(188.70,322.60) rotate(-90)"><text x="-1.33" y="0.00" font-size="31.50" textLength="9.97" lengthAdjust="spacingAndGlyphs" fill="#000" style="font-weight:normal">-</text>
<path d="M763,0L583,0L583,1147C518,1085 433,1023 328,961C260,921 200,893 150,874L150,1048C240,1090 330,1150 410,1220C490,1290 545,1370 570,1466L763,1466Z" fill="#000" transform="translate(8.64,0.00) scale(0.01462,-0.01538)"/></g>
<g transform="translate(301.00,493.00) rotate(-90)"><text x="-1.01" y="0.00" font-size="46.00" textLength="149.34" lengthAdjust="spacingAndGlyphs" fill="#000">322 cm</text></g>
<g transform="translate(284.40,342.60) rotate(-90)"><text x="-1.33" y="0.00" font-size="31.50" textLength="9.97" lengthAdjust="spacingAndGlyphs" fill="#000" style="font-weight:normal">-</text>
<path d="M763,0L583,0L583,1147C518,1085 433,1023 328,961C260,921 200,893 150,874L150,1048C240,1090 330,1150 410,1220C490,1290 545,1370 570,1466L763,1466Z" fill="#000" transform="translate(8.64,0.00) scale(0.01462,-0.01538)"/></g>
<g transform="translate(710.00,448.40) rotate(-90)"><text x="-1.62" y="0.00" font-size="46.00" textLength="150.48" lengthAdjust="spacingAndGlyphs" fill="#000">674 cm</text></g>
<g transform="translate(693.40,297.50) rotate(-90)"><text x="-1.33" y="0.00" font-size="31.50" textLength="9.97" lengthAdjust="spacingAndGlyphs" fill="#000" style="font-weight:normal">-</text>
<path d="M763,0L583,0L583,1147C518,1085 433,1023 328,961C260,921 200,893 150,874L150,1048C240,1090 330,1150 410,1220C490,1290 545,1370 570,1466L763,1466Z" fill="#000" transform="translate(8.64,0.00) scale(0.01462,-0.01538)"/></g>
<g transform="translate(872.40,437.60) rotate(-90)"><text x="-1.41" y="0.00" font-size="46.00" textLength="150.25" lengthAdjust="spacingAndGlyphs" fill="#000">806 cm</text></g>
<g transform="translate(855.80,286.70) rotate(-90)"><text x="-1.33" y="0.00" font-size="31.50" textLength="9.97" lengthAdjust="spacingAndGlyphs" fill="#000" style="font-weight:normal">-</text>
<path d="M763,0L583,0L583,1147C518,1085 433,1023 328,961C260,921 200,893 150,874L150,1048C240,1090 330,1150 410,1220C490,1290 545,1370 570,1466L763,1466Z" fill="#000" transform="translate(8.64,0.00) scale(0.01462,-0.01538)"/></g>
<text x="1124.36" y="527.50" font-size="51.50" textLength="76.48" lengthAdjust="spacingAndGlyphs" fill="#000000">(vi)</text>
<text x="1132.61" y="647.50" font-size="51.50" textLength="63.58" lengthAdjust="spacingAndGlyphs" fill="#0000ff">(v)</text>
<text x="1126.85" y="762.30" font-size="51.50" textLength="73.91" lengthAdjust="spacingAndGlyphs" fill="#ff0000">(iv)</text>
<text x="1130.36" y="960.60" font-size="51.50" textLength="76.48" lengthAdjust="spacingAndGlyphs" fill="#808080">(iii)</text>
<text x="1132.66" y="1120.00" font-size="51.50" textLength="62.28" lengthAdjust="spacingAndGlyphs" fill="#000080">(ii)</text>
<text x="917.61" y="1174.20" font-size="51.50" textLength="47.18" lengthAdjust="spacingAndGlyphs" fill="#800000">(i)</text>
</svg>
</body></html>
